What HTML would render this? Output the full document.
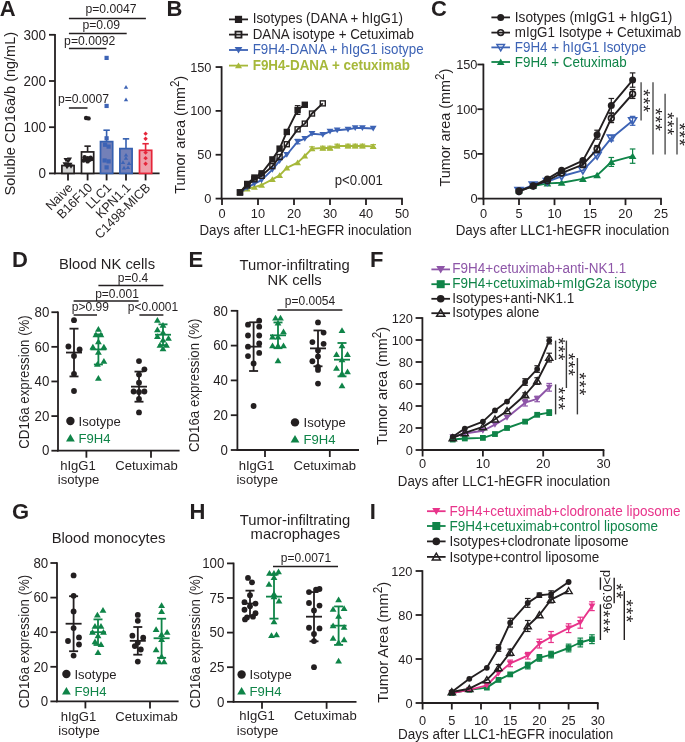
<!DOCTYPE html>
<html><head><meta charset="utf-8"><style>
html,body{margin:0;padding:0;background:#fff;width:685px;height:742px;overflow:hidden}
svg{display:block;filter:blur(0.35px)}
text{font-family:"Liberation Sans",sans-serif}
</style></head><body>
<svg width="685" height="742" viewBox="0 0 685 742" fill="#231f20">
<text x="-0.3" y="16.2" font-size="22" font-weight="bold" transform="translate(0 -0.65) scale(1 1.04)">A</text>
<line x1="55" y1="34" x2="55" y2="174.2" stroke="#231f20" stroke-width="1.8"/>
<line x1="49" y1="173.4" x2="55" y2="173.4" stroke="#231f20" stroke-width="1.8"/>
<text x="46" y="178.26" font-size="13.5" text-anchor="end" transform="translate(0 -7.13) scale(1 1.04)">0</text>
<line x1="49" y1="127.2" x2="55" y2="127.2" stroke="#231f20" stroke-width="1.8"/>
<text x="46" y="132.06" font-size="13.5" text-anchor="end" transform="translate(0 -5.28) scale(1 1.04)">100</text>
<line x1="49" y1="81" x2="55" y2="81" stroke="#231f20" stroke-width="1.8"/>
<text x="46" y="85.86" font-size="13.5" text-anchor="end" transform="translate(0 -3.43) scale(1 1.04)">200</text>
<line x1="49" y1="34.8" x2="55" y2="34.8" stroke="#231f20" stroke-width="1.8"/>
<text x="46" y="39.66" font-size="13.5" text-anchor="end" transform="translate(0 -1.59) scale(1 1.04)">300</text>
<line x1="54.2" y1="173.4" x2="159.6" y2="173.4" stroke="#231f20" stroke-width="1.8"/>
<line x1="68" y1="173.4" x2="68" y2="180.4" stroke="#231f20" stroke-width="1.8"/>
<line x1="87.6" y1="173.4" x2="87.6" y2="180.4" stroke="#231f20" stroke-width="1.8"/>
<line x1="106.6" y1="173.4" x2="106.6" y2="180.4" stroke="#231f20" stroke-width="1.8"/>
<line x1="126" y1="173.4" x2="126" y2="180.4" stroke="#231f20" stroke-width="1.8"/>
<line x1="145.6" y1="173.4" x2="145.6" y2="180.4" stroke="#231f20" stroke-width="1.8"/>
<text x="15.1" y="113.7" font-size="14.5" text-anchor="middle" transform="rotate(-90 15.1 113.7) translate(0 -4.55) scale(1 1.04)">Soluble CD16a/b (ng/mL)</text>
<line x1="68" y1="165.55" x2="68" y2="163.7" stroke="#231f20" stroke-width="1.6"/>
<line x1="64.8" y1="163.7" x2="71.2" y2="163.7" stroke="#231f20" stroke-width="1.6"/>
<rect x="61.9" y="165.55" width="12.2" height="7.85" fill="#d6d6d6" stroke="#231f20" stroke-width="1.7"/>
<line x1="87.6" y1="151.92" x2="87.6" y2="146.14" stroke="#231f20" stroke-width="1.6"/>
<line x1="84.4" y1="146.14" x2="90.8" y2="146.14" stroke="#231f20" stroke-width="1.6"/>
<rect x="81.5" y="151.92" width="12.2" height="21.48" fill="#ffffff" stroke="#231f20" stroke-width="1.7"/>
<line x1="106.6" y1="141.61" x2="106.6" y2="130.2" stroke="#3560b0" stroke-width="1.6"/>
<line x1="103.4" y1="130.2" x2="109.8" y2="130.2" stroke="#3560b0" stroke-width="1.6"/>
<rect x="100.5" y="141.61" width="12.2" height="31.79" fill="#7380b8" stroke="#3560b0" stroke-width="1.7"/>
<line x1="126" y1="148.59" x2="126" y2="138.84" stroke="#3560b0" stroke-width="1.6"/>
<line x1="122.8" y1="138.84" x2="129.2" y2="138.84" stroke="#3560b0" stroke-width="1.6"/>
<rect x="119.9" y="148.59" width="12.2" height="24.81" fill="#7380b8" stroke="#3560b0" stroke-width="1.7"/>
<line x1="145.6" y1="150.3" x2="145.6" y2="143.74" stroke="#e5263a" stroke-width="1.6"/>
<line x1="142.4" y1="143.74" x2="148.8" y2="143.74" stroke="#e5263a" stroke-width="1.6"/>
<rect x="139.5" y="150.3" width="12.2" height="23.1" fill="#eea0aa" stroke="#e5263a" stroke-width="1.7"/>
<polygon points="66,162.3 68.53,158.05 63.47,158.05" fill="#231f20"/>
<polygon points="69.5,161.84 72.03,157.58 66.97,157.58" fill="#231f20"/>
<polygon points="68,163.69 70.53,159.43 65.47,159.43" fill="#231f20"/>
<polygon points="65,166.46 67.53,162.2 62.47,162.2" fill="#231f20"/>
<polygon points="70,166.92 72.53,162.67 67.47,162.67" fill="#231f20"/>
<polygon points="68,167.85 70.53,163.59 65.47,163.59" fill="#231f20"/>
<polygon points="67,169.23 69.53,164.98 64.47,164.98" fill="#231f20"/>
<polygon points="71,168.77 73.53,164.51 68.47,164.51" fill="#231f20"/>
<circle cx="86.1" cy="117.96" r="2.2" fill="#231f20"/>
<circle cx="88.6" cy="118.42" r="2.2" fill="#231f20"/>
<circle cx="84.6" cy="157.23" r="2.2" fill="#231f20"/>
<circle cx="87.6" cy="158.15" r="2.2" fill="#231f20"/>
<circle cx="90.6" cy="157.69" r="2.2" fill="#231f20"/>
<circle cx="85.6" cy="159.54" r="2.2" fill="#231f20"/>
<circle cx="89.1" cy="160" r="2.2" fill="#231f20"/>
<circle cx="91.6" cy="159.08" r="2.2" fill="#231f20"/>
<circle cx="83.6" cy="160.46" r="2.2" fill="#231f20"/>
<circle cx="87.6" cy="161.39" r="2.2" fill="#231f20"/>
<rect x="104.5" y="55.8" width="4.2" height="4.2" fill="#3d63b5"/>
<rect x="104.5" y="103.85" width="4.2" height="4.2" fill="#3d63b5"/>
<rect x="104.5" y="136.19" width="4.2" height="4.2" fill="#3d63b5"/>
<rect x="103" y="142.66" width="4.2" height="4.2" fill="#3d63b5"/>
<rect x="106.5" y="144.5" width="4.2" height="4.2" fill="#3d63b5"/>
<rect x="102.5" y="158.36" width="4.2" height="4.2" fill="#3d63b5"/>
<rect x="106.5" y="159.29" width="4.2" height="4.2" fill="#3d63b5"/>
<rect x="104.5" y="165.29" width="4.2" height="4.2" fill="#3d63b5"/>
<polygon points="126,85.01 128.2,88.71 123.8,88.71" fill="#3d63b5"/>
<polygon points="126,97.48 128.2,101.18 123.8,101.18" fill="#3d63b5"/>
<polygon points="126,152.92 128.2,156.62 123.8,156.62" fill="#3d63b5"/>
<polygon points="126,156.15 128.2,159.85 123.8,159.85" fill="#3d63b5"/>
<polygon points="123,160.31 125.2,164.01 120.8,164.01" fill="#3d63b5"/>
<polygon points="129,161.24 131.2,164.94 126.8,164.94" fill="#3d63b5"/>
<polygon points="124,165.86 126.2,169.56 121.8,169.56" fill="#3d63b5"/>
<polygon points="128,165.39 130.2,169.09 125.8,169.09" fill="#3d63b5"/>
<polygon points="145.6,131.47 147.8,133.67 145.6,135.87 143.4,133.67" fill="#e5263a"/>
<polygon points="145.6,136.55 147.8,138.75 145.6,140.95 143.4,138.75" fill="#e5263a"/>
<polygon points="145.6,150.41 147.8,152.61 145.6,154.81 143.4,152.61" fill="#e5263a"/>
<polygon points="145.6,155.95 147.8,158.15 145.6,160.35 143.4,158.15" fill="#e5263a"/>
<polygon points="145.6,161.5 147.8,163.7 145.6,165.9 143.4,163.7" fill="#e5263a"/>
<line x1="68.9" y1="108" x2="87.5" y2="108" stroke="#231f20" stroke-width="1.5"/>
<text x="83.5" y="103" font-size="12.2" text-anchor="middle" transform="translate(0 -4.12) scale(1 1.04)">p=0.0007</text>
<line x1="68.9" y1="48.6" x2="106.4" y2="48.6" stroke="#231f20" stroke-width="1.5"/>
<text x="89.7" y="45.2" font-size="12.2" text-anchor="middle" transform="translate(0 -1.81) scale(1 1.04)">p=0.0092</text>
<line x1="68.9" y1="33.4" x2="126.7" y2="33.4" stroke="#231f20" stroke-width="1.5"/>
<text x="101.2" y="29.4" font-size="12.2" text-anchor="middle" transform="translate(0 -1.18) scale(1 1.04)">p=0.09</text>
<line x1="68.9" y1="18.4" x2="145.9" y2="18.4" stroke="#231f20" stroke-width="1.5"/>
<text x="111" y="13.1" font-size="12.2" text-anchor="middle" transform="translate(0 -0.52) scale(1 1.04)">p=0.0047</text>
<text x="73.5" y="188.5" font-size="12.5" text-anchor="end" transform="rotate(-45 73.5 188.5) translate(0 -7.54) scale(1 1.04)">Naive</text>
<text x="93.1" y="188.5" font-size="12.5" text-anchor="end" transform="rotate(-45 93.1 188.5) translate(0 -7.54) scale(1 1.04)">B16F10</text>
<text x="112.1" y="188.5" font-size="12.5" text-anchor="end" transform="rotate(-45 112.1 188.5) translate(0 -7.54) scale(1 1.04)">LLC1</text>
<text x="131.5" y="188.5" font-size="12.5" text-anchor="end" transform="rotate(-45 131.5 188.5) translate(0 -7.54) scale(1 1.04)">KPN1.1</text>
<text x="151.1" y="188.5" font-size="12.5" text-anchor="end" transform="rotate(-45 151.1 188.5) translate(0 -7.54) scale(1 1.04)">C1498-MICB</text>
<text x="166.4" y="16.2" font-size="22" font-weight="bold" transform="translate(0 -0.65) scale(1 1.04)">B</text>
<line x1="221.6" y1="66.25" x2="221.6" y2="199.4" stroke="#231f20" stroke-width="1.8"/>
<line x1="215.6" y1="198.6" x2="221.6" y2="198.6" stroke="#231f20" stroke-width="1.8"/>
<text x="211.5" y="203.21" font-size="12.8" text-anchor="end" transform="translate(0 -8.13) scale(1 1.04)">0</text>
<line x1="215.6" y1="154.75" x2="221.6" y2="154.75" stroke="#231f20" stroke-width="1.8"/>
<text x="211.5" y="159.36" font-size="12.8" text-anchor="end" transform="translate(0 -6.37) scale(1 1.04)">50</text>
<line x1="215.6" y1="110.9" x2="221.6" y2="110.9" stroke="#231f20" stroke-width="1.8"/>
<text x="211.5" y="115.51" font-size="12.8" text-anchor="end" transform="translate(0 -4.62) scale(1 1.04)">100</text>
<line x1="215.6" y1="67.05" x2="221.6" y2="67.05" stroke="#231f20" stroke-width="1.8"/>
<text x="211.5" y="71.66" font-size="12.8" text-anchor="end" transform="translate(0 -2.87) scale(1 1.04)">150</text>
<line x1="220.8" y1="198.6" x2="402.8" y2="198.6" stroke="#231f20" stroke-width="1.8"/>
<line x1="222" y1="198.6" x2="222" y2="205.1" stroke="#231f20" stroke-width="1.8"/>
<text x="222" y="217.6" font-size="12.8" text-anchor="middle" transform="translate(0 -8.7) scale(1 1.04)">0</text>
<line x1="258" y1="198.6" x2="258" y2="205.1" stroke="#231f20" stroke-width="1.8"/>
<text x="258" y="217.6" font-size="12.8" text-anchor="middle" transform="translate(0 -8.7) scale(1 1.04)">10</text>
<line x1="294" y1="198.6" x2="294" y2="205.1" stroke="#231f20" stroke-width="1.8"/>
<text x="294" y="217.6" font-size="12.8" text-anchor="middle" transform="translate(0 -8.7) scale(1 1.04)">20</text>
<line x1="330" y1="198.6" x2="330" y2="205.1" stroke="#231f20" stroke-width="1.8"/>
<text x="330" y="217.6" font-size="12.8" text-anchor="middle" transform="translate(0 -8.7) scale(1 1.04)">30</text>
<line x1="366" y1="198.6" x2="366" y2="205.1" stroke="#231f20" stroke-width="1.8"/>
<text x="366" y="217.6" font-size="12.8" text-anchor="middle" transform="translate(0 -8.7) scale(1 1.04)">40</text>
<line x1="402" y1="198.6" x2="402" y2="205.1" stroke="#231f20" stroke-width="1.8"/>
<text x="402" y="217.6" font-size="12.8" text-anchor="middle" transform="translate(0 -8.7) scale(1 1.04)">50</text>
<text x="305.6" y="235.2" font-size="13.32" text-anchor="middle" transform="translate(0 -9.41) scale(1 1.04)">Days after LLC1-hEGFR inoculation</text>
<text x="185.4" y="134.8" font-size="14.4" text-anchor="middle" transform="rotate(-90 185.4 134.8) translate(0 -5.39) scale(1 1.04)">Tumor area (mm<tspan dy="-6.05" font-size="11.52">2</tspan><tspan dy="6.05">)</tspan></text>
<polyline points="240,192.46 247.2,188.95 254.4,187.2 261.6,185.01 272.4,179.31 279.6,175.36 286.8,167.91 297.6,162.64 304.8,155.98 312,148.61 322.8,148 330,148 337.2,145.98 348,145.98 355.2,145.98 362.4,145.98 373.2,146.42" fill="none" stroke="#a6b83a" stroke-width="1.9" stroke-linejoin="round"/>
<line x1="312" y1="146.86" x2="312" y2="150.37" stroke="#a6b83a" stroke-width="1.2"/>
<line x1="309.2" y1="146.86" x2="314.8" y2="146.86" stroke="#a6b83a" stroke-width="1.2"/>
<line x1="309.2" y1="150.37" x2="314.8" y2="150.37" stroke="#a6b83a" stroke-width="1.2"/>
<line x1="322.8" y1="146.24" x2="322.8" y2="149.75" stroke="#a6b83a" stroke-width="1.2"/>
<line x1="320" y1="146.24" x2="325.6" y2="146.24" stroke="#a6b83a" stroke-width="1.2"/>
<line x1="320" y1="149.75" x2="325.6" y2="149.75" stroke="#a6b83a" stroke-width="1.2"/>
<line x1="330" y1="146.24" x2="330" y2="149.75" stroke="#a6b83a" stroke-width="1.2"/>
<line x1="327.2" y1="146.24" x2="332.8" y2="146.24" stroke="#a6b83a" stroke-width="1.2"/>
<line x1="327.2" y1="149.75" x2="332.8" y2="149.75" stroke="#a6b83a" stroke-width="1.2"/>
<line x1="337.2" y1="144.23" x2="337.2" y2="147.73" stroke="#a6b83a" stroke-width="1.2"/>
<line x1="334.4" y1="144.23" x2="340" y2="144.23" stroke="#a6b83a" stroke-width="1.2"/>
<line x1="334.4" y1="147.73" x2="340" y2="147.73" stroke="#a6b83a" stroke-width="1.2"/>
<line x1="348" y1="144.23" x2="348" y2="147.73" stroke="#a6b83a" stroke-width="1.2"/>
<line x1="345.2" y1="144.23" x2="350.8" y2="144.23" stroke="#a6b83a" stroke-width="1.2"/>
<line x1="345.2" y1="147.73" x2="350.8" y2="147.73" stroke="#a6b83a" stroke-width="1.2"/>
<line x1="355.2" y1="144.23" x2="355.2" y2="147.73" stroke="#a6b83a" stroke-width="1.2"/>
<line x1="352.4" y1="144.23" x2="358" y2="144.23" stroke="#a6b83a" stroke-width="1.2"/>
<line x1="352.4" y1="147.73" x2="358" y2="147.73" stroke="#a6b83a" stroke-width="1.2"/>
<line x1="362.4" y1="144.23" x2="362.4" y2="147.73" stroke="#a6b83a" stroke-width="1.2"/>
<line x1="359.6" y1="144.23" x2="365.2" y2="144.23" stroke="#a6b83a" stroke-width="1.2"/>
<line x1="359.6" y1="147.73" x2="365.2" y2="147.73" stroke="#a6b83a" stroke-width="1.2"/>
<line x1="373.2" y1="144.66" x2="373.2" y2="148.17" stroke="#a6b83a" stroke-width="1.2"/>
<line x1="370.4" y1="144.66" x2="376" y2="144.66" stroke="#a6b83a" stroke-width="1.2"/>
<line x1="370.4" y1="148.17" x2="376" y2="148.17" stroke="#a6b83a" stroke-width="1.2"/>
<polygon points="240,189.36 243.41,195.1 236.59,195.1" fill="#a6b83a"/>
<polygon points="247.2,185.85 250.61,191.59 243.79,191.59" fill="#a6b83a"/>
<polygon points="254.4,184.1 257.81,189.83 250.99,189.83" fill="#a6b83a"/>
<polygon points="261.6,181.91 265.01,187.64 258.19,187.64" fill="#a6b83a"/>
<polygon points="272.4,176.21 275.81,181.94 268.99,181.94" fill="#a6b83a"/>
<polygon points="279.6,172.26 283.01,177.99 276.19,177.99" fill="#a6b83a"/>
<polygon points="286.8,164.81 290.21,170.54 283.39,170.54" fill="#a6b83a"/>
<polygon points="297.6,159.54 301.01,165.28 294.19,165.28" fill="#a6b83a"/>
<polygon points="304.8,152.88 308.21,158.61 301.39,158.61" fill="#a6b83a"/>
<polygon points="312,145.51 315.41,151.25 308.59,151.25" fill="#a6b83a"/>
<polygon points="322.8,144.9 326.21,150.63 319.39,150.63" fill="#a6b83a"/>
<polygon points="330,144.9 333.41,150.63 326.59,150.63" fill="#a6b83a"/>
<polygon points="337.2,142.88 340.61,148.61 333.79,148.61" fill="#a6b83a"/>
<polygon points="348,142.88 351.41,148.61 344.59,148.61" fill="#a6b83a"/>
<polygon points="355.2,142.88 358.61,148.61 351.79,148.61" fill="#a6b83a"/>
<polygon points="362.4,142.88 365.81,148.61 358.99,148.61" fill="#a6b83a"/>
<polygon points="373.2,143.32 376.61,149.05 369.79,149.05" fill="#a6b83a"/>
<polyline points="240,192.46 247.2,187.64 254.4,183.69 261.6,180.18 272.4,169.66 279.6,160.89 286.8,154.75 297.6,141.59 304.8,138.61 312,133.7 322.8,134.58 330,131.42 337.2,130.19 348,129.32 355.2,128 362.4,128 373.2,128.44" fill="none" stroke="#3d63b5" stroke-width="1.9" stroke-linejoin="round"/>
<line x1="297.6" y1="139.4" x2="297.6" y2="143.79" stroke="#3d63b5" stroke-width="1.2"/>
<line x1="294.8" y1="139.4" x2="300.4" y2="139.4" stroke="#3d63b5" stroke-width="1.2"/>
<line x1="294.8" y1="143.79" x2="300.4" y2="143.79" stroke="#3d63b5" stroke-width="1.2"/>
<polygon points="240,195.56 243.41,189.83 236.59,189.83" fill="#3d63b5"/>
<polygon points="247.2,190.74 250.61,185 243.79,185" fill="#3d63b5"/>
<polygon points="254.4,186.79 257.81,181.06 250.99,181.06" fill="#3d63b5"/>
<polygon points="261.6,183.28 265.01,177.55 258.19,177.55" fill="#3d63b5"/>
<polygon points="272.4,172.76 275.81,167.02 268.99,167.02" fill="#3d63b5"/>
<polygon points="279.6,163.99 283.01,158.25 276.19,158.25" fill="#3d63b5"/>
<polygon points="286.8,157.85 290.21,152.12 283.39,152.12" fill="#3d63b5"/>
<polygon points="297.6,144.69 301.01,138.96 294.19,138.96" fill="#3d63b5"/>
<polygon points="304.8,141.71 308.21,135.98 301.39,135.98" fill="#3d63b5"/>
<polygon points="312,136.8 315.41,131.07 308.59,131.07" fill="#3d63b5"/>
<polygon points="322.8,137.68 326.21,131.94 319.39,131.94" fill="#3d63b5"/>
<polygon points="330,134.52 333.41,128.79 326.59,128.79" fill="#3d63b5"/>
<polygon points="337.2,133.29 340.61,127.56 333.79,127.56" fill="#3d63b5"/>
<polygon points="348,132.42 351.41,126.68 344.59,126.68" fill="#3d63b5"/>
<polygon points="355.2,131.1 358.61,125.37 351.79,125.37" fill="#3d63b5"/>
<polygon points="362.4,131.1 365.81,125.37 358.99,125.37" fill="#3d63b5"/>
<polygon points="373.2,131.54 376.61,125.8 369.79,125.8" fill="#3d63b5"/>
<polyline points="240,192.46 247.2,185.44 254.4,179.31 261.6,175.8 272.4,166.15 279.6,157.03 286.8,144.23 297.6,129.32 304.8,123.62 312,113.53 322.8,103.36" fill="none" stroke="#231f20" stroke-width="1.9" stroke-linejoin="round"/>
<rect x="237.5" y="189.96" width="5" height="5" fill="none" stroke="#231f20" stroke-width="1.4"/>
<rect x="244.7" y="182.94" width="5" height="5" fill="none" stroke="#231f20" stroke-width="1.4"/>
<rect x="251.9" y="176.81" width="5" height="5" fill="none" stroke="#231f20" stroke-width="1.4"/>
<rect x="259.1" y="173.3" width="5" height="5" fill="none" stroke="#231f20" stroke-width="1.4"/>
<rect x="269.9" y="163.65" width="5" height="5" fill="none" stroke="#231f20" stroke-width="1.4"/>
<rect x="277.1" y="154.53" width="5" height="5" fill="none" stroke="#231f20" stroke-width="1.4"/>
<rect x="284.3" y="141.73" width="5" height="5" fill="none" stroke="#231f20" stroke-width="1.4"/>
<rect x="295.1" y="126.82" width="5" height="5" fill="none" stroke="#231f20" stroke-width="1.4"/>
<rect x="302.3" y="121.12" width="5" height="5" fill="none" stroke="#231f20" stroke-width="1.4"/>
<rect x="309.5" y="111.03" width="5" height="5" fill="none" stroke="#231f20" stroke-width="1.4"/>
<rect x="320.3" y="100.86" width="5" height="5" fill="none" stroke="#231f20" stroke-width="1.4"/>
<polyline points="240,192.46 247.2,183.95 254.4,177.55 261.6,173.34 272.4,159.4 279.6,148.61 286.8,131.95 297.6,110.02 304.8,104.76" fill="none" stroke="#231f20" stroke-width="1.9" stroke-linejoin="round"/>
<line x1="297.6" y1="105.64" x2="297.6" y2="114.41" stroke="#231f20" stroke-width="1.2"/>
<line x1="294.8" y1="105.64" x2="300.4" y2="105.64" stroke="#231f20" stroke-width="1.2"/>
<line x1="294.8" y1="114.41" x2="300.4" y2="114.41" stroke="#231f20" stroke-width="1.2"/>
<rect x="236.8" y="189.26" width="6.4" height="6.4" fill="#231f20"/>
<rect x="244" y="180.75" width="6.4" height="6.4" fill="#231f20"/>
<rect x="251.2" y="174.35" width="6.4" height="6.4" fill="#231f20"/>
<rect x="258.4" y="170.14" width="6.4" height="6.4" fill="#231f20"/>
<rect x="269.2" y="156.2" width="6.4" height="6.4" fill="#231f20"/>
<rect x="276.4" y="145.41" width="6.4" height="6.4" fill="#231f20"/>
<rect x="283.6" y="128.75" width="6.4" height="6.4" fill="#231f20"/>
<rect x="294.4" y="106.82" width="6.4" height="6.4" fill="#231f20"/>
<rect x="301.6" y="101.56" width="6.4" height="6.4" fill="#231f20"/>
<line x1="229" y1="19.4" x2="248" y2="19.4" stroke="#231f20" stroke-width="1.8"/>
<rect x="234.9" y="15.8" width="7.2" height="7.2" fill="#231f20"/>
<text x="252.7" y="23.4" font-size="13.35" transform="translate(0 -0.94) scale(1 1.04)">Isotypes (DANA + hIgG1)</text>
<line x1="229" y1="34.6" x2="248" y2="34.6" stroke="#231f20" stroke-width="1.8"/>
<rect x="235.5" y="31.6" width="6" height="6" fill="none" stroke="#231f20" stroke-width="1.8"/>
<text x="252.7" y="38.61" font-size="13.35" transform="translate(0 -1.54) scale(1 1.04)">DANA isotype + Cetuximab</text>
<line x1="229" y1="50" x2="248" y2="50" stroke="#3d63b5" stroke-width="1.8"/>
<polygon points="238.5,53.5 242.35,47.02 234.65,47.02" fill="#3d63b5"/>
<text x="252.7" y="54.01" font-size="13.35" fill="#3d63b5" transform="translate(0 -2.16) scale(1 1.04)">F9H4-DANA + hIgG1 isotype</text>
<line x1="229" y1="65.6" x2="248" y2="65.6" stroke="#a6b83a" stroke-width="1.8"/>
<polygon points="238.5,62.4 242.02,68.32 234.98,68.32" fill="#a6b83a"/>
<text x="252.7" y="69.63" font-size="13.42" fill="#a6b83a" font-weight="bold" transform="translate(0 -2.79) scale(1 1.04)">F9H4-DANA + cetuximab</text>
<text x="334.8" y="185.3" font-size="13.2" transform="translate(0 -7.41) scale(1 1.04)">p&lt;0.001</text>
<text x="431.1" y="16.2" font-size="22" font-weight="bold" transform="translate(0 -0.65) scale(1 1.04)">C</text>
<line x1="483.4" y1="63.7" x2="483.4" y2="199.4" stroke="#231f20" stroke-width="1.8"/>
<line x1="477.4" y1="198.6" x2="483.4" y2="198.6" stroke="#231f20" stroke-width="1.8"/>
<text x="477.5" y="203.21" font-size="12.8" text-anchor="end" transform="translate(0 -8.13) scale(1 1.04)">0</text>
<line x1="477.4" y1="153.9" x2="483.4" y2="153.9" stroke="#231f20" stroke-width="1.8"/>
<text x="477.5" y="158.51" font-size="12.8" text-anchor="end" transform="translate(0 -6.34) scale(1 1.04)">50</text>
<line x1="477.4" y1="109.2" x2="483.4" y2="109.2" stroke="#231f20" stroke-width="1.8"/>
<text x="477.5" y="113.81" font-size="12.8" text-anchor="end" transform="translate(0 -4.55) scale(1 1.04)">100</text>
<line x1="477.4" y1="64.5" x2="483.4" y2="64.5" stroke="#231f20" stroke-width="1.8"/>
<text x="477.5" y="69.11" font-size="12.8" text-anchor="end" transform="translate(0 -2.76) scale(1 1.04)">150</text>
<line x1="482.6" y1="198.6" x2="661.8" y2="198.6" stroke="#231f20" stroke-width="1.8"/>
<line x1="483.5" y1="198.6" x2="483.5" y2="205.1" stroke="#231f20" stroke-width="1.8"/>
<text x="483.5" y="218.2" font-size="12.8" text-anchor="middle" transform="translate(0 -8.73) scale(1 1.04)">0</text>
<line x1="519" y1="198.6" x2="519" y2="205.1" stroke="#231f20" stroke-width="1.8"/>
<text x="519" y="218.2" font-size="12.8" text-anchor="middle" transform="translate(0 -8.73) scale(1 1.04)">5</text>
<line x1="554.5" y1="198.6" x2="554.5" y2="205.1" stroke="#231f20" stroke-width="1.8"/>
<text x="554.5" y="218.2" font-size="12.8" text-anchor="middle" transform="translate(0 -8.73) scale(1 1.04)">10</text>
<line x1="590" y1="198.6" x2="590" y2="205.1" stroke="#231f20" stroke-width="1.8"/>
<text x="590" y="218.2" font-size="12.8" text-anchor="middle" transform="translate(0 -8.73) scale(1 1.04)">15</text>
<line x1="625.5" y1="198.6" x2="625.5" y2="205.1" stroke="#231f20" stroke-width="1.8"/>
<text x="625.5" y="218.2" font-size="12.8" text-anchor="middle" transform="translate(0 -8.73) scale(1 1.04)">20</text>
<line x1="661" y1="198.6" x2="661" y2="205.1" stroke="#231f20" stroke-width="1.8"/>
<text x="661" y="218.2" font-size="12.8" text-anchor="middle" transform="translate(0 -8.73) scale(1 1.04)">25</text>
<text x="562.4" y="235.4" font-size="13.4" text-anchor="middle" transform="translate(0 -9.42) scale(1 1.04)">Days after LLC1-hEGFR inoculation</text>
<text x="450.3" y="127.6" font-size="14.4" text-anchor="middle" transform="rotate(-90 450.3 127.6) translate(0 -5.1) scale(1 1.04)">Tumor area (mm<tspan dy="-6.05" font-size="11.52">2</tspan><tspan dy="6.05">)</tspan></text>
<polyline points="519,190.55 533.2,186.08 547.4,183.4 561.6,182.69 582.9,178.93 597.1,175.36 611.3,161.95 632.6,156.13" fill="none" stroke="#0f8448" stroke-width="1.9" stroke-linejoin="round"/>
<line x1="611.3" y1="157.48" x2="611.3" y2="166.42" stroke="#0f8448" stroke-width="1.2"/>
<line x1="608.5" y1="157.48" x2="614.1" y2="157.48" stroke="#0f8448" stroke-width="1.2"/>
<line x1="608.5" y1="166.42" x2="614.1" y2="166.42" stroke="#0f8448" stroke-width="1.2"/>
<line x1="632.6" y1="148.98" x2="632.6" y2="163.29" stroke="#0f8448" stroke-width="1.2"/>
<line x1="629.8" y1="148.98" x2="635.4" y2="148.98" stroke="#0f8448" stroke-width="1.2"/>
<line x1="629.8" y1="163.29" x2="635.4" y2="163.29" stroke="#0f8448" stroke-width="1.2"/>
<polygon points="519,187.05 522.85,193.53 515.15,193.53" fill="#0f8448"/>
<polygon points="533.2,182.58 537.05,189.06 529.35,189.06" fill="#0f8448"/>
<polygon points="547.4,179.9 551.25,186.38 543.55,186.38" fill="#0f8448"/>
<polygon points="561.6,179.19 565.45,185.66 557.75,185.66" fill="#0f8448"/>
<polygon points="582.9,175.43 586.75,181.91 579.05,181.91" fill="#0f8448"/>
<polygon points="597.1,171.86 600.95,178.33 593.25,178.33" fill="#0f8448"/>
<polygon points="611.3,158.45 615.15,164.92 607.45,164.92" fill="#0f8448"/>
<polygon points="632.6,152.63 636.45,159.11 628.75,159.11" fill="#0f8448"/>
<polyline points="519,190.55 533.2,185.19 547.4,181.61 561.6,176.25 582.9,170.35 597.1,155.69 611.3,138.17 632.6,120.82" fill="none" stroke="#3d63b5" stroke-width="1.9" stroke-linejoin="round"/>
<line x1="611.3" y1="135.48" x2="611.3" y2="140.85" stroke="#3d63b5" stroke-width="1.2"/>
<line x1="608.5" y1="135.48" x2="614.1" y2="135.48" stroke="#3d63b5" stroke-width="1.2"/>
<line x1="608.5" y1="140.85" x2="614.1" y2="140.85" stroke="#3d63b5" stroke-width="1.2"/>
<line x1="632.6" y1="116.35" x2="632.6" y2="125.29" stroke="#3d63b5" stroke-width="1.2"/>
<line x1="629.8" y1="116.35" x2="635.4" y2="116.35" stroke="#3d63b5" stroke-width="1.2"/>
<line x1="629.8" y1="125.29" x2="635.4" y2="125.29" stroke="#3d63b5" stroke-width="1.2"/>
<polygon points="519,194.15 522.96,187.49 515.04,187.49" fill="none" stroke="#3d63b5" stroke-width="1.6" stroke-linejoin="miter"/>
<polygon points="533.2,188.79 537.16,182.13 529.24,182.13" fill="none" stroke="#3d63b5" stroke-width="1.6" stroke-linejoin="miter"/>
<polygon points="547.4,185.21 551.36,178.55 543.44,178.55" fill="none" stroke="#3d63b5" stroke-width="1.6" stroke-linejoin="miter"/>
<polygon points="561.6,179.85 565.56,173.19 557.64,173.19" fill="none" stroke="#3d63b5" stroke-width="1.6" stroke-linejoin="miter"/>
<polygon points="582.9,173.95 586.86,167.29 578.94,167.29" fill="none" stroke="#3d63b5" stroke-width="1.6" stroke-linejoin="miter"/>
<polygon points="597.1,159.29 601.06,152.63 593.14,152.63" fill="none" stroke="#3d63b5" stroke-width="1.6" stroke-linejoin="miter"/>
<polygon points="611.3,141.77 615.26,135.11 607.34,135.11" fill="none" stroke="#3d63b5" stroke-width="1.6" stroke-linejoin="miter"/>
<polygon points="632.6,124.42 636.56,117.76 628.64,117.76" fill="none" stroke="#3d63b5" stroke-width="1.6" stroke-linejoin="miter"/>
<polyline points="519,191.45 533.2,186.08 547.4,180.72 561.6,173.12 582.9,164.63 597.1,149.07 611.3,118.14 632.6,94" fill="none" stroke="#231f20" stroke-width="1.9" stroke-linejoin="round"/>
<line x1="582.9" y1="161.95" x2="582.9" y2="167.31" stroke="#231f20" stroke-width="1.2"/>
<line x1="580.1" y1="161.95" x2="585.7" y2="161.95" stroke="#231f20" stroke-width="1.2"/>
<line x1="580.1" y1="167.31" x2="585.7" y2="167.31" stroke="#231f20" stroke-width="1.2"/>
<line x1="597.1" y1="145.5" x2="597.1" y2="152.65" stroke="#231f20" stroke-width="1.2"/>
<line x1="594.3" y1="145.5" x2="599.9" y2="145.5" stroke="#231f20" stroke-width="1.2"/>
<line x1="594.3" y1="152.65" x2="599.9" y2="152.65" stroke="#231f20" stroke-width="1.2"/>
<line x1="611.3" y1="113.67" x2="611.3" y2="122.61" stroke="#231f20" stroke-width="1.2"/>
<line x1="608.5" y1="113.67" x2="614.1" y2="113.67" stroke="#231f20" stroke-width="1.2"/>
<line x1="608.5" y1="122.61" x2="614.1" y2="122.61" stroke="#231f20" stroke-width="1.2"/>
<line x1="632.6" y1="89.53" x2="632.6" y2="98.47" stroke="#231f20" stroke-width="1.2"/>
<line x1="629.8" y1="89.53" x2="635.4" y2="89.53" stroke="#231f20" stroke-width="1.2"/>
<line x1="629.8" y1="98.47" x2="635.4" y2="98.47" stroke="#231f20" stroke-width="1.2"/>
<circle cx="519" cy="191.45" r="2.85" fill="none" stroke="#231f20" stroke-width="1.7"/>
<circle cx="533.2" cy="186.08" r="2.85" fill="none" stroke="#231f20" stroke-width="1.7"/>
<circle cx="547.4" cy="180.72" r="2.85" fill="none" stroke="#231f20" stroke-width="1.7"/>
<circle cx="561.6" cy="173.12" r="2.85" fill="none" stroke="#231f20" stroke-width="1.7"/>
<circle cx="582.9" cy="164.63" r="2.85" fill="none" stroke="#231f20" stroke-width="1.7"/>
<circle cx="597.1" cy="149.07" r="2.85" fill="none" stroke="#231f20" stroke-width="1.7"/>
<circle cx="611.3" cy="118.14" r="2.85" fill="none" stroke="#231f20" stroke-width="1.7"/>
<circle cx="632.6" cy="94" r="2.85" fill="none" stroke="#231f20" stroke-width="1.7"/>
<polyline points="519,190.82 533.2,185.82 547.4,178.93 561.6,170.35 582.9,160.6 597.1,134.68 611.3,105.62 632.6,80.06" fill="none" stroke="#231f20" stroke-width="1.9" stroke-linejoin="round"/>
<line x1="597.1" y1="130.21" x2="597.1" y2="139.15" stroke="#231f20" stroke-width="1.2"/>
<line x1="594.3" y1="130.21" x2="599.9" y2="130.21" stroke="#231f20" stroke-width="1.2"/>
<line x1="594.3" y1="139.15" x2="599.9" y2="139.15" stroke="#231f20" stroke-width="1.2"/>
<line x1="611.3" y1="98.47" x2="611.3" y2="112.78" stroke="#231f20" stroke-width="1.2"/>
<line x1="608.5" y1="98.47" x2="614.1" y2="98.47" stroke="#231f20" stroke-width="1.2"/>
<line x1="608.5" y1="112.78" x2="614.1" y2="112.78" stroke="#231f20" stroke-width="1.2"/>
<line x1="632.6" y1="72.9" x2="632.6" y2="87.21" stroke="#231f20" stroke-width="1.2"/>
<line x1="629.8" y1="72.9" x2="635.4" y2="72.9" stroke="#231f20" stroke-width="1.2"/>
<line x1="629.8" y1="87.21" x2="635.4" y2="87.21" stroke="#231f20" stroke-width="1.2"/>
<circle cx="519" cy="190.82" r="3.5" fill="#231f20"/>
<circle cx="533.2" cy="185.82" r="3.5" fill="#231f20"/>
<circle cx="547.4" cy="178.93" r="3.5" fill="#231f20"/>
<circle cx="561.6" cy="170.35" r="3.5" fill="#231f20"/>
<circle cx="582.9" cy="160.6" r="3.5" fill="#231f20"/>
<circle cx="597.1" cy="134.68" r="3.5" fill="#231f20"/>
<circle cx="611.3" cy="105.62" r="3.5" fill="#231f20"/>
<circle cx="632.6" cy="80.06" r="3.5" fill="#231f20"/>
<line x1="491.4" y1="17.4" x2="510" y2="17.4" stroke="#231f20" stroke-width="1.8"/>
<circle cx="500.7" cy="17.4" r="3.5" fill="#231f20"/>
<text x="514.8" y="22.32" font-size="13.68" transform="translate(0 -0.89) scale(1 1.04)">Isotypes (mIgG1 + hIgG1)</text>
<line x1="491.4" y1="32.6" x2="510" y2="32.6" stroke="#231f20" stroke-width="1.8"/>
<circle cx="500.7" cy="32.6" r="2.85" fill="none" stroke="#231f20" stroke-width="1.7"/>
<text x="514.8" y="37.42" font-size="13.4" transform="translate(0 -1.5) scale(1 1.04)">mIgG1 Isotype + Cetuximab</text>
<line x1="491.4" y1="47.4" x2="510" y2="47.4" stroke="#3d63b5" stroke-width="1.8"/>
<polygon points="500.7,50.8 504.44,44.51 496.96,44.51" fill="none" stroke="#3d63b5" stroke-width="1.5" stroke-linejoin="miter"/>
<text x="514.8" y="52.22" font-size="13.4" fill="#3d63b5" transform="translate(0 -2.09) scale(1 1.04)">F9H4 + hIgG1 Isotype</text>
<line x1="491.4" y1="62" x2="510" y2="62" stroke="#0f8448" stroke-width="1.8"/>
<polygon points="500.7,58.6 504.44,64.89 496.96,64.89" fill="#0f8448"/>
<text x="514.8" y="66.82" font-size="13.4" fill="#0f8448" transform="translate(0 -2.67) scale(1 1.04)">F9H4 + Cetuximab</text>
<line x1="641.1" y1="82.2" x2="641.1" y2="120.5" stroke="#5a5a5a" stroke-width="1.5"/>
<line x1="653" y1="82.2" x2="653" y2="154.4" stroke="#5a5a5a" stroke-width="1.5"/>
<line x1="665.1" y1="93.8" x2="665.1" y2="154.4" stroke="#5a5a5a" stroke-width="1.5"/>
<line x1="677" y1="117.5" x2="677" y2="154.4" stroke="#5a5a5a" stroke-width="1.5"/>
<text x="636.9" y="101.1" font-size="18.2" text-anchor="middle" transform="rotate(90 636.9 101.1) translate(0 -4.04) scale(1 1.04)" letter-spacing="0.8">***</text>
<text x="648.8" y="119.7" font-size="18.2" text-anchor="middle" transform="rotate(90 648.8 119.7) translate(0 -4.79) scale(1 1.04)" letter-spacing="0.8">***</text>
<text x="660.6" y="124.1" font-size="18.2" text-anchor="middle" transform="rotate(90 660.6 124.1) translate(0 -4.96) scale(1 1.04)" letter-spacing="0.8">***</text>
<text x="672.5" y="134.8" font-size="18.2" text-anchor="middle" transform="rotate(90 672.5 134.8) translate(0 -5.39) scale(1 1.04)" letter-spacing="0.8">***</text>
<text x="12.1" y="266.6" font-size="22" font-weight="bold" transform="translate(0 -10.66) scale(1 1.04)">D</text>
<text x="107" y="269.4" font-size="14.8" text-anchor="middle" transform="translate(0 -10.78) scale(1 1.04)">Blood NK cells</text>
<line x1="58" y1="311.42" x2="58" y2="451.5" stroke="#231f20" stroke-width="1.8"/>
<line x1="51.4" y1="450.7" x2="58" y2="450.7" stroke="#231f20" stroke-width="1.8"/>
<text x="49.3" y="455.49" font-size="13.3" text-anchor="end" transform="translate(0 -18.22) scale(1 1.04)">0</text>
<line x1="51.4" y1="416.08" x2="58" y2="416.08" stroke="#231f20" stroke-width="1.8"/>
<text x="49.3" y="420.87" font-size="13.3" text-anchor="end" transform="translate(0 -16.83) scale(1 1.04)">20</text>
<line x1="51.4" y1="381.46" x2="58" y2="381.46" stroke="#231f20" stroke-width="1.8"/>
<text x="49.3" y="386.25" font-size="13.3" text-anchor="end" transform="translate(0 -15.45) scale(1 1.04)">40</text>
<line x1="51.4" y1="346.84" x2="58" y2="346.84" stroke="#231f20" stroke-width="1.8"/>
<text x="49.3" y="351.63" font-size="13.3" text-anchor="end" transform="translate(0 -14.07) scale(1 1.04)">60</text>
<line x1="51.4" y1="312.22" x2="58" y2="312.22" stroke="#231f20" stroke-width="1.8"/>
<text x="49.3" y="317.01" font-size="13.3" text-anchor="end" transform="translate(0 -12.68) scale(1 1.04)">80</text>
<line x1="57.2" y1="450.7" x2="179.6" y2="450.7" stroke="#231f20" stroke-width="1.8"/>
<line x1="86.4" y1="450.7" x2="86.4" y2="457.7" stroke="#231f20" stroke-width="1.8"/>
<line x1="151" y1="450.7" x2="151" y2="457.7" stroke="#231f20" stroke-width="1.8"/>
<text x="78" y="470" font-size="13.1" text-anchor="middle" transform="translate(0 -18.8) scale(1 1.04)">hIgG1</text>
<text x="78.5" y="484.4" font-size="13.1" text-anchor="middle" transform="translate(0 -19.38) scale(1 1.04)">isotype</text>
<text x="146.5" y="470" font-size="13.1" text-anchor="middle" transform="translate(0 -18.8) scale(1 1.04)">Cetuximab</text>
<text x="28.6" y="382" font-size="13.3" text-anchor="middle" transform="rotate(-90 28.6 382) translate(0 -15.28) scale(1 1.04)">CD16a expression (%)</text>
<circle cx="70.4" cy="421" r="4.2" fill="#231f20"/>
<text x="78.6" y="425.6" font-size="13.1" transform="translate(0 -17.02) scale(1 1.04)">Isotype</text>
<polygon points="70.4,434 74.8,441.4 66,441.4" fill="#0f8448"/>
<text x="78.6" y="442.6" font-size="13.1" fill="#0f8448" transform="translate(0 -17.7) scale(1 1.04)">F9H4</text>
<circle cx="74" cy="320.18" r="2.9" fill="#231f20"/>
<circle cx="68.4" cy="346.49" r="2.9" fill="#231f20"/>
<circle cx="79.6" cy="349.44" r="2.9" fill="#231f20"/>
<circle cx="74" cy="356.01" r="2.9" fill="#231f20"/>
<circle cx="74" cy="374.02" r="2.9" fill="#231f20"/>
<circle cx="74" cy="390.98" r="2.9" fill="#231f20"/>
<line x1="74" y1="328.66" x2="74" y2="376.44" stroke="#231f20" stroke-width="1.8"/>
<line x1="69.5" y1="328.66" x2="78.5" y2="328.66" stroke="#231f20" stroke-width="1.8"/>
<line x1="69.5" y1="376.44" x2="78.5" y2="376.44" stroke="#231f20" stroke-width="1.8"/>
<line x1="66" y1="352.55" x2="82" y2="352.55" stroke="#231f20" stroke-width="1.8"/>
<polygon points="98.4,325.91 101.81,331.65 94.99,331.65" fill="#0f8448"/>
<polygon points="95.9,331.62 99.31,337.36 92.49,337.36" fill="#0f8448"/>
<polygon points="100.9,331.62 104.31,337.36 97.49,337.36" fill="#0f8448"/>
<polygon points="98.4,338.55 101.81,344.28 94.99,344.28" fill="#0f8448"/>
<polygon points="92.9,343.74 96.31,349.47 89.49,349.47" fill="#0f8448"/>
<polygon points="103.9,343.74 107.31,349.47 100.49,349.47" fill="#0f8448"/>
<polygon points="98.4,348.93 101.81,354.67 94.99,354.67" fill="#0f8448"/>
<polygon points="103.9,357.93 107.31,363.67 100.49,363.67" fill="#0f8448"/>
<polygon points="97.4,361.05 100.81,366.78 93.99,366.78" fill="#0f8448"/>
<polygon points="98.4,374.9 101.81,380.63 94.99,380.63" fill="#0f8448"/>
<line x1="98.4" y1="334.38" x2="98.4" y2="364.5" stroke="#0f8448" stroke-width="1.8"/>
<line x1="93.9" y1="334.38" x2="102.9" y2="334.38" stroke="#0f8448" stroke-width="1.8"/>
<line x1="93.9" y1="364.5" x2="102.9" y2="364.5" stroke="#0f8448" stroke-width="1.8"/>
<line x1="90.4" y1="349.44" x2="106.4" y2="349.44" stroke="#0f8448" stroke-width="1.8"/>
<circle cx="139" cy="361.03" r="2.9" fill="#231f20"/>
<circle cx="144.4" cy="369.34" r="2.9" fill="#231f20"/>
<circle cx="139" cy="374.54" r="2.9" fill="#231f20"/>
<circle cx="139" cy="382.67" r="2.9" fill="#231f20"/>
<circle cx="133.6" cy="391.5" r="2.9" fill="#231f20"/>
<circle cx="144.4" cy="391.5" r="2.9" fill="#231f20"/>
<circle cx="139" cy="392.02" r="2.9" fill="#231f20"/>
<circle cx="139" cy="398.94" r="2.9" fill="#231f20"/>
<circle cx="139" cy="412.44" r="2.9" fill="#231f20"/>
<line x1="139" y1="371.59" x2="139" y2="401.71" stroke="#231f20" stroke-width="1.8"/>
<line x1="134.5" y1="371.59" x2="143.5" y2="371.59" stroke="#231f20" stroke-width="1.8"/>
<line x1="134.5" y1="401.71" x2="143.5" y2="401.71" stroke="#231f20" stroke-width="1.8"/>
<line x1="131" y1="386.65" x2="147" y2="386.65" stroke="#231f20" stroke-width="1.8"/>
<polygon points="157.4,317.08 160.81,322.82 153.99,322.82" fill="#0f8448"/>
<polygon points="163,322.1 166.41,327.84 159.59,327.84" fill="#0f8448"/>
<polygon points="157.4,326.43 160.81,332.16 153.99,332.16" fill="#0f8448"/>
<polygon points="163,329.2 166.41,334.93 159.59,334.93" fill="#0f8448"/>
<polygon points="157.4,333.35 160.81,339.09 153.99,339.09" fill="#0f8448"/>
<polygon points="168.5,335.08 171.91,340.82 165.09,340.82" fill="#0f8448"/>
<polygon points="163,336.82 166.41,342.55 159.59,342.55" fill="#0f8448"/>
<polygon points="160,342.01 163.41,347.74 156.59,347.74" fill="#0f8448"/>
<polygon points="166.5,342.01 169.91,347.74 163.09,347.74" fill="#0f8448"/>
<polygon points="163,345.47 166.41,351.21 159.59,351.21" fill="#0f8448"/>
<line x1="163" y1="324.34" x2="163" y2="345.11" stroke="#0f8448" stroke-width="1.8"/>
<line x1="158.5" y1="324.34" x2="167.5" y2="324.34" stroke="#0f8448" stroke-width="1.8"/>
<line x1="158.5" y1="345.11" x2="167.5" y2="345.11" stroke="#0f8448" stroke-width="1.8"/>
<line x1="155" y1="334.72" x2="171" y2="334.72" stroke="#0f8448" stroke-width="1.8"/>
<line x1="98.4" y1="285.6" x2="163.4" y2="285.6" stroke="#231f20" stroke-width="1.5"/>
<text x="133" y="281.6" font-size="12" text-anchor="middle" transform="translate(0 -11.26) scale(1 1.04)">p=0.4</text>
<line x1="73.6" y1="301" x2="138.6" y2="301" stroke="#231f20" stroke-width="1.5"/>
<text x="117" y="298" font-size="12" text-anchor="middle" transform="translate(0 -11.92) scale(1 1.04)">p=0.001</text>
<line x1="73.6" y1="315" x2="97" y2="315" stroke="#231f20" stroke-width="1.5"/>
<text x="90.3" y="311" font-size="12" text-anchor="middle" transform="translate(0 -12.44) scale(1 1.04)">p&gt;0.99</text>
<line x1="139.4" y1="315" x2="163.4" y2="315" stroke="#231f20" stroke-width="1.5"/>
<text x="153" y="311" font-size="12" text-anchor="middle" transform="translate(0 -12.44) scale(1 1.04)">p&lt;0.0001</text>
<text x="188.5" y="266.8" font-size="22" font-weight="bold" transform="translate(0 -10.67) scale(1 1.04)">E</text>
<text x="294.6" y="269.8" font-size="14.8" text-anchor="middle" transform="translate(0 -10.79) scale(1 1.04)">Tumor-infiltrating</text>
<text x="294.6" y="284.6" font-size="14.8" text-anchor="middle" transform="translate(0 -11.38) scale(1 1.04)">NK cells</text>
<line x1="237.4" y1="310" x2="237.4" y2="450.8" stroke="#231f20" stroke-width="1.8"/>
<line x1="230.8" y1="450" x2="237.4" y2="450" stroke="#231f20" stroke-width="1.8"/>
<text x="228" y="454.79" font-size="13.3" text-anchor="end" transform="translate(0 -18.19) scale(1 1.04)">0</text>
<line x1="230.8" y1="415.2" x2="237.4" y2="415.2" stroke="#231f20" stroke-width="1.8"/>
<text x="228" y="419.99" font-size="13.3" text-anchor="end" transform="translate(0 -16.8) scale(1 1.04)">20</text>
<line x1="230.8" y1="380.4" x2="237.4" y2="380.4" stroke="#231f20" stroke-width="1.8"/>
<text x="228" y="385.19" font-size="13.3" text-anchor="end" transform="translate(0 -15.41) scale(1 1.04)">40</text>
<line x1="230.8" y1="345.6" x2="237.4" y2="345.6" stroke="#231f20" stroke-width="1.8"/>
<text x="228" y="350.39" font-size="13.3" text-anchor="end" transform="translate(0 -14.02) scale(1 1.04)">60</text>
<line x1="230.8" y1="310.8" x2="237.4" y2="310.8" stroke="#231f20" stroke-width="1.8"/>
<text x="228" y="315.59" font-size="13.3" text-anchor="end" transform="translate(0 -12.62) scale(1 1.04)">80</text>
<line x1="236.6" y1="450" x2="359" y2="450" stroke="#231f20" stroke-width="1.8"/>
<line x1="265" y1="450" x2="265" y2="457" stroke="#231f20" stroke-width="1.8"/>
<line x1="329.8" y1="450" x2="329.8" y2="457" stroke="#231f20" stroke-width="1.8"/>
<text x="256.5" y="470" font-size="13.1" text-anchor="middle" transform="translate(0 -18.8) scale(1 1.04)">hIgG1</text>
<text x="257.2" y="484.4" font-size="13.1" text-anchor="middle" transform="translate(0 -19.38) scale(1 1.04)">isotype</text>
<text x="324.8" y="470" font-size="13.1" text-anchor="middle" transform="translate(0 -18.8) scale(1 1.04)">Cetuximab</text>
<text x="199.5" y="385.3" font-size="13.3" text-anchor="middle" transform="rotate(-90 199.5 385.3) translate(0 -15.41) scale(1 1.04)">CD16a expression (%)</text>
<circle cx="295" cy="422.4" r="4.2" fill="#231f20"/>
<text x="303.6" y="427" font-size="13.1" transform="translate(0 -17.08) scale(1 1.04)">Isotype</text>
<polygon points="295,435 299.4,442.4 290.6,442.4" fill="#0f8448"/>
<text x="303.6" y="443.6" font-size="13.1" fill="#0f8448" transform="translate(0 -17.74) scale(1 1.04)">F9H4</text>
<circle cx="259.2" cy="320.72" r="2.9" fill="#231f20"/>
<circle cx="248" cy="324.72" r="2.9" fill="#231f20"/>
<circle cx="259.2" cy="326.63" r="2.9" fill="#231f20"/>
<circle cx="248" cy="335.51" r="2.9" fill="#231f20"/>
<circle cx="259.2" cy="335.51" r="2.9" fill="#231f20"/>
<circle cx="259.2" cy="343.51" r="2.9" fill="#231f20"/>
<circle cx="248" cy="346.64" r="2.9" fill="#231f20"/>
<circle cx="259.2" cy="352.91" r="2.9" fill="#231f20"/>
<circle cx="248" cy="356.04" r="2.9" fill="#231f20"/>
<circle cx="253.6" cy="363.52" r="2.9" fill="#231f20"/>
<circle cx="253.6" cy="405.98" r="2.9" fill="#231f20"/>
<line x1="253.6" y1="322.28" x2="253.6" y2="371" stroke="#231f20" stroke-width="1.8"/>
<line x1="249.1" y1="322.28" x2="258.1" y2="322.28" stroke="#231f20" stroke-width="1.8"/>
<line x1="249.1" y1="371" x2="258.1" y2="371" stroke="#231f20" stroke-width="1.8"/>
<line x1="245.6" y1="346.64" x2="261.6" y2="346.64" stroke="#231f20" stroke-width="1.8"/>
<polygon points="275.5,314.66 278.91,320.39 272.09,320.39" fill="#0f8448"/>
<polygon points="280.5,314.66 283.91,320.39 277.09,320.39" fill="#0f8448"/>
<polygon points="278,319.88 281.41,325.62 274.59,325.62" fill="#0f8448"/>
<polygon points="283.5,328.58 286.91,334.31 280.09,334.31" fill="#0f8448"/>
<polygon points="272.5,333.8 275.91,339.53 269.09,339.53" fill="#0f8448"/>
<polygon points="278,333.8 281.41,339.53 274.59,339.53" fill="#0f8448"/>
<polygon points="272.5,342.5 275.91,348.24 269.09,348.24" fill="#0f8448"/>
<polygon points="278,342.5 281.41,348.24 274.59,348.24" fill="#0f8448"/>
<polygon points="283.5,342.5 286.91,348.24 280.09,348.24" fill="#0f8448"/>
<polygon points="278,357.46 281.41,363.2 274.59,363.2" fill="#0f8448"/>
<line x1="278" y1="322.46" x2="278" y2="348.21" stroke="#0f8448" stroke-width="1.8"/>
<line x1="273.5" y1="322.46" x2="282.5" y2="322.46" stroke="#0f8448" stroke-width="1.8"/>
<line x1="273.5" y1="348.21" x2="282.5" y2="348.21" stroke="#0f8448" stroke-width="1.8"/>
<line x1="270" y1="335.33" x2="286" y2="335.33" stroke="#0f8448" stroke-width="1.8"/>
<circle cx="318" cy="322.46" r="2.9" fill="#231f20"/>
<circle cx="323.6" cy="332.55" r="2.9" fill="#231f20"/>
<circle cx="312.4" cy="342.12" r="2.9" fill="#231f20"/>
<circle cx="323.6" cy="343.86" r="2.9" fill="#231f20"/>
<circle cx="318" cy="350.47" r="2.9" fill="#231f20"/>
<circle cx="318" cy="356.39" r="2.9" fill="#231f20"/>
<circle cx="312.4" cy="361.26" r="2.9" fill="#231f20"/>
<circle cx="318" cy="367" r="2.9" fill="#231f20"/>
<circle cx="318" cy="369.96" r="2.9" fill="#231f20"/>
<circle cx="318" cy="383.53" r="2.9" fill="#231f20"/>
<line x1="318" y1="330.46" x2="318" y2="366.31" stroke="#231f20" stroke-width="1.8"/>
<line x1="313.5" y1="330.46" x2="322.5" y2="330.46" stroke="#231f20" stroke-width="1.8"/>
<line x1="313.5" y1="366.31" x2="322.5" y2="366.31" stroke="#231f20" stroke-width="1.8"/>
<line x1="310" y1="348.38" x2="326" y2="348.38" stroke="#231f20" stroke-width="1.8"/>
<polygon points="342,327.19 345.41,332.92 338.59,332.92" fill="#0f8448"/>
<polygon points="342,342.5 345.41,348.24 338.59,348.24" fill="#0f8448"/>
<polygon points="336.5,351.2 339.91,356.94 333.09,356.94" fill="#0f8448"/>
<polygon points="347.5,351.2 350.91,356.94 344.09,356.94" fill="#0f8448"/>
<polygon points="342,356.42 345.41,362.15 338.59,362.15" fill="#0f8448"/>
<polygon points="336.5,365.12 339.91,370.86 333.09,370.86" fill="#0f8448"/>
<polygon points="347.5,368.6 350.91,374.33 344.09,374.33" fill="#0f8448"/>
<polygon points="342,370.34 345.41,376.07 338.59,376.07" fill="#0f8448"/>
<polygon points="342,382.52 345.41,388.25 338.59,388.25" fill="#0f8448"/>
<line x1="342" y1="342.99" x2="342" y2="376.4" stroke="#0f8448" stroke-width="1.8"/>
<line x1="337.5" y1="342.99" x2="346.5" y2="342.99" stroke="#0f8448" stroke-width="1.8"/>
<line x1="337.5" y1="376.4" x2="346.5" y2="376.4" stroke="#0f8448" stroke-width="1.8"/>
<line x1="334" y1="359.69" x2="350" y2="359.69" stroke="#0f8448" stroke-width="1.8"/>
<line x1="277.4" y1="310" x2="342.4" y2="310" stroke="#231f20" stroke-width="1.5"/>
<text x="310" y="305" font-size="12" text-anchor="middle" transform="translate(0 -12.2) scale(1 1.04)">p=0.0054</text>
<text x="369.9" y="266.6" font-size="22" font-weight="bold" transform="translate(0 -10.66) scale(1 1.04)">F</text>
<line x1="422.4" y1="317.2" x2="422.4" y2="450.8" stroke="#231f20" stroke-width="1.8"/>
<line x1="415.6" y1="450" x2="422.4" y2="450" stroke="#231f20" stroke-width="1.8"/>
<text x="413" y="454.61" font-size="12.8" text-anchor="end" transform="translate(0 -18.18) scale(1 1.04)">0</text>
<line x1="415.6" y1="428" x2="422.4" y2="428" stroke="#231f20" stroke-width="1.8"/>
<text x="413" y="432.61" font-size="12.8" text-anchor="end" transform="translate(0 -17.3) scale(1 1.04)">20</text>
<line x1="415.6" y1="406" x2="422.4" y2="406" stroke="#231f20" stroke-width="1.8"/>
<text x="413" y="410.61" font-size="12.8" text-anchor="end" transform="translate(0 -16.42) scale(1 1.04)">40</text>
<line x1="415.6" y1="384" x2="422.4" y2="384" stroke="#231f20" stroke-width="1.8"/>
<text x="413" y="388.61" font-size="12.8" text-anchor="end" transform="translate(0 -15.54) scale(1 1.04)">60</text>
<line x1="415.6" y1="362" x2="422.4" y2="362" stroke="#231f20" stroke-width="1.8"/>
<text x="413" y="366.61" font-size="12.8" text-anchor="end" transform="translate(0 -14.66) scale(1 1.04)">80</text>
<line x1="415.6" y1="340" x2="422.4" y2="340" stroke="#231f20" stroke-width="1.8"/>
<text x="413" y="344.61" font-size="12.8" text-anchor="end" transform="translate(0 -13.78) scale(1 1.04)">100</text>
<line x1="415.6" y1="318" x2="422.4" y2="318" stroke="#231f20" stroke-width="1.8"/>
<text x="413" y="322.61" font-size="12.8" text-anchor="end" transform="translate(0 -12.9) scale(1 1.04)">120</text>
<line x1="421.6" y1="450" x2="604.3" y2="450" stroke="#231f20" stroke-width="1.8"/>
<line x1="422.6" y1="450" x2="422.6" y2="456.5" stroke="#231f20" stroke-width="1.8"/>
<text x="422.6" y="468.5" font-size="12.8" text-anchor="middle" transform="translate(0 -18.74) scale(1 1.04)">0</text>
<line x1="482.9" y1="450" x2="482.9" y2="456.5" stroke="#231f20" stroke-width="1.8"/>
<text x="482.9" y="468.5" font-size="12.8" text-anchor="middle" transform="translate(0 -18.74) scale(1 1.04)">10</text>
<line x1="543.2" y1="450" x2="543.2" y2="456.5" stroke="#231f20" stroke-width="1.8"/>
<text x="543.2" y="468.5" font-size="12.8" text-anchor="middle" transform="translate(0 -18.74) scale(1 1.04)">20</text>
<line x1="603.5" y1="450" x2="603.5" y2="456.5" stroke="#231f20" stroke-width="1.8"/>
<text x="603.5" y="468.5" font-size="12.8" text-anchor="middle" transform="translate(0 -18.74) scale(1 1.04)">30</text>
<text x="504" y="485.9" font-size="13.32" text-anchor="middle" transform="translate(0 -19.44) scale(1 1.04)">Days after LLC1-hEGFR inoculation</text>
<text x="387.5" y="386" font-size="14.4" text-anchor="middle" transform="rotate(-90 387.5 386) translate(0 -15.44) scale(1 1.04)">Tumor area (mm<tspan dy="-6.05" font-size="11.52">2</tspan><tspan dy="6.05">)</tspan></text>
<polyline points="452.75,439.55 464.81,438.45 482.9,437.9 494.96,434.05 507.02,428 525.11,421.62 537.17,414.8 549.23,412.6" fill="none" stroke="#0f8448" stroke-width="1.9" stroke-linejoin="round"/>
<line x1="549.23" y1="409.85" x2="549.23" y2="415.35" stroke="#0f8448" stroke-width="1.2"/>
<line x1="546.43" y1="409.85" x2="552.03" y2="409.85" stroke="#0f8448" stroke-width="1.2"/>
<line x1="546.43" y1="415.35" x2="552.03" y2="415.35" stroke="#0f8448" stroke-width="1.2"/>
<rect x="449.85" y="436.65" width="5.8" height="5.8" fill="#0f8448"/>
<rect x="461.91" y="435.55" width="5.8" height="5.8" fill="#0f8448"/>
<rect x="480" y="435" width="5.8" height="5.8" fill="#0f8448"/>
<rect x="492.06" y="431.15" width="5.8" height="5.8" fill="#0f8448"/>
<rect x="504.12" y="425.1" width="5.8" height="5.8" fill="#0f8448"/>
<rect x="522.21" y="418.72" width="5.8" height="5.8" fill="#0f8448"/>
<rect x="534.27" y="411.9" width="5.8" height="5.8" fill="#0f8448"/>
<rect x="546.33" y="409.7" width="5.8" height="5.8" fill="#0f8448"/>
<polyline points="452.75,436.8 464.81,433.5 482.9,430.75 494.96,424.7 507.02,417.55 525.11,402.7 537.17,398.96 549.23,387.3" fill="none" stroke="#8e56a8" stroke-width="1.9" stroke-linejoin="round"/>
<line x1="525.11" y1="399.4" x2="525.11" y2="406" stroke="#8e56a8" stroke-width="1.2"/>
<line x1="522.31" y1="399.4" x2="527.91" y2="399.4" stroke="#8e56a8" stroke-width="1.2"/>
<line x1="522.31" y1="406" x2="527.91" y2="406" stroke="#8e56a8" stroke-width="1.2"/>
<line x1="537.17" y1="396.21" x2="537.17" y2="401.71" stroke="#8e56a8" stroke-width="1.2"/>
<line x1="534.37" y1="396.21" x2="539.97" y2="396.21" stroke="#8e56a8" stroke-width="1.2"/>
<line x1="534.37" y1="401.71" x2="539.97" y2="401.71" stroke="#8e56a8" stroke-width="1.2"/>
<line x1="549.23" y1="383.45" x2="549.23" y2="391.15" stroke="#8e56a8" stroke-width="1.2"/>
<line x1="546.43" y1="383.45" x2="552.03" y2="383.45" stroke="#8e56a8" stroke-width="1.2"/>
<line x1="546.43" y1="391.15" x2="552.03" y2="391.15" stroke="#8e56a8" stroke-width="1.2"/>
<polygon points="452.75,439.9 456.16,434.17 449.34,434.17" fill="#8e56a8"/>
<polygon points="464.81,436.6 468.22,430.87 461.4,430.87" fill="#8e56a8"/>
<polygon points="482.9,433.85 486.31,428.12 479.49,428.12" fill="#8e56a8"/>
<polygon points="494.96,427.8 498.37,422.06 491.55,422.06" fill="#8e56a8"/>
<polygon points="507.02,420.65 510.43,414.92 503.61,414.92" fill="#8e56a8"/>
<polygon points="525.11,405.8 528.52,400.06 521.7,400.06" fill="#8e56a8"/>
<polygon points="537.17,402.06 540.58,396.32 533.76,396.32" fill="#8e56a8"/>
<polygon points="549.23,390.4 552.64,384.67 545.82,384.67" fill="#8e56a8"/>
<polyline points="452.75,437.9 464.81,432.95 482.9,426.9 494.96,419.2 507.02,410.95 525.11,395 537.17,381.03 549.23,357.6" fill="none" stroke="#231f20" stroke-width="1.9" stroke-linejoin="round"/>
<line x1="525.11" y1="392.8" x2="525.11" y2="397.2" stroke="#231f20" stroke-width="1.2"/>
<line x1="522.31" y1="392.8" x2="527.91" y2="392.8" stroke="#231f20" stroke-width="1.2"/>
<line x1="522.31" y1="397.2" x2="527.91" y2="397.2" stroke="#231f20" stroke-width="1.2"/>
<line x1="537.17" y1="377.73" x2="537.17" y2="384.33" stroke="#231f20" stroke-width="1.2"/>
<line x1="534.37" y1="377.73" x2="539.97" y2="377.73" stroke="#231f20" stroke-width="1.2"/>
<line x1="534.37" y1="384.33" x2="539.97" y2="384.33" stroke="#231f20" stroke-width="1.2"/>
<line x1="549.23" y1="353.2" x2="549.23" y2="362" stroke="#231f20" stroke-width="1.2"/>
<line x1="546.43" y1="353.2" x2="552.03" y2="353.2" stroke="#231f20" stroke-width="1.2"/>
<line x1="546.43" y1="362" x2="552.03" y2="362" stroke="#231f20" stroke-width="1.2"/>
<polygon points="452.75,434.6 456.38,440.7 449.12,440.7" fill="none" stroke="#231f20" stroke-width="1.4" stroke-linejoin="miter"/>
<polygon points="464.81,429.65 468.44,435.75 461.18,435.75" fill="none" stroke="#231f20" stroke-width="1.4" stroke-linejoin="miter"/>
<polygon points="482.9,423.6 486.53,429.7 479.27,429.7" fill="none" stroke="#231f20" stroke-width="1.4" stroke-linejoin="miter"/>
<polygon points="494.96,415.9 498.59,422 491.33,422" fill="none" stroke="#231f20" stroke-width="1.4" stroke-linejoin="miter"/>
<polygon points="507.02,407.65 510.65,413.75 503.39,413.75" fill="none" stroke="#231f20" stroke-width="1.4" stroke-linejoin="miter"/>
<polygon points="525.11,391.7 528.74,397.81 521.48,397.81" fill="none" stroke="#231f20" stroke-width="1.4" stroke-linejoin="miter"/>
<polygon points="537.17,377.73 540.8,383.83 533.54,383.83" fill="none" stroke="#231f20" stroke-width="1.4" stroke-linejoin="miter"/>
<polygon points="549.23,354.3 552.86,360.41 545.6,360.41" fill="none" stroke="#231f20" stroke-width="1.4" stroke-linejoin="miter"/>
<polyline points="452.75,436.8 464.81,428.55 482.9,421.62 494.96,410.4 507.02,401.6 525.11,382.02 537.17,369.04 549.23,340.55" fill="none" stroke="#231f20" stroke-width="1.9" stroke-linejoin="round"/>
<line x1="525.11" y1="378.72" x2="525.11" y2="385.32" stroke="#231f20" stroke-width="1.2"/>
<line x1="522.31" y1="378.72" x2="527.91" y2="378.72" stroke="#231f20" stroke-width="1.2"/>
<line x1="522.31" y1="385.32" x2="527.91" y2="385.32" stroke="#231f20" stroke-width="1.2"/>
<line x1="537.17" y1="365.74" x2="537.17" y2="372.34" stroke="#231f20" stroke-width="1.2"/>
<line x1="534.37" y1="365.74" x2="539.97" y2="365.74" stroke="#231f20" stroke-width="1.2"/>
<line x1="534.37" y1="372.34" x2="539.97" y2="372.34" stroke="#231f20" stroke-width="1.2"/>
<line x1="549.23" y1="337.25" x2="549.23" y2="343.85" stroke="#231f20" stroke-width="1.2"/>
<line x1="546.43" y1="337.25" x2="552.03" y2="337.25" stroke="#231f20" stroke-width="1.2"/>
<line x1="546.43" y1="343.85" x2="552.03" y2="343.85" stroke="#231f20" stroke-width="1.2"/>
<circle cx="452.75" cy="436.8" r="2.9" fill="#231f20"/>
<circle cx="464.81" cy="428.55" r="2.9" fill="#231f20"/>
<circle cx="482.9" cy="421.62" r="2.9" fill="#231f20"/>
<circle cx="494.96" cy="410.4" r="2.9" fill="#231f20"/>
<circle cx="507.02" cy="401.6" r="2.9" fill="#231f20"/>
<circle cx="525.11" cy="382.02" r="2.9" fill="#231f20"/>
<circle cx="537.17" cy="369.04" r="2.9" fill="#231f20"/>
<circle cx="549.23" cy="340.55" r="2.9" fill="#231f20"/>
<line x1="431.4" y1="269.4" x2="450" y2="269.4" stroke="#8e56a8" stroke-width="1.8"/>
<polygon points="440.7,273.4 445.1,266 436.3,266" fill="#8e56a8"/>
<text x="452.3" y="273.45" font-size="13.5" fill="#8e56a8" transform="translate(0 -10.94) scale(1 1.04)">F9H4+cetuximab+anti-NK1.1</text>
<line x1="431.4" y1="284.2" x2="450" y2="284.2" stroke="#0f8448" stroke-width="1.8"/>
<rect x="436.7" y="280.2" width="8" height="8" fill="#0f8448"/>
<text x="452.3" y="288.25" font-size="13.5" fill="#0f8448" transform="translate(0 -11.53) scale(1 1.04)">F9H4+cetuximab+mIgG2a isotype</text>
<line x1="431.4" y1="298.8" x2="450" y2="298.8" stroke="#231f20" stroke-width="1.8"/>
<circle cx="440.7" cy="298.8" r="3.8" fill="#231f20"/>
<text x="452.3" y="302.85" font-size="13.5" transform="translate(0 -12.11) scale(1 1.04)">Isotypes+anti-NK1.1</text>
<line x1="431.4" y1="313.2" x2="450" y2="313.2" stroke="#231f20" stroke-width="1.8"/>
<polygon points="440.7,309.5 444.77,316.34 436.63,316.34" fill="none" stroke="#231f20" stroke-width="1.5" stroke-linejoin="miter"/>
<text x="452.3" y="317.25" font-size="13.5" transform="translate(0 -12.69) scale(1 1.04)">Isotypes alone</text>
<line x1="555.6" y1="340.6" x2="555.6" y2="360" stroke="#3a3a3a" stroke-width="1.4"/>
<line x1="566.4" y1="340.6" x2="566.4" y2="388" stroke="#3a3a3a" stroke-width="1.4"/>
<line x1="577.4" y1="358" x2="577.4" y2="414.4" stroke="#3a3a3a" stroke-width="1.4"/>
<line x1="555.6" y1="384.4" x2="555.6" y2="414.4" stroke="#3a3a3a" stroke-width="1.4"/>
<text x="551.6" y="349.4" font-size="18.2" text-anchor="middle" transform="rotate(90 551.6 349.4) translate(0 -13.98) scale(1 1.04)" letter-spacing="0.8">***</text>
<text x="562.2" y="364.9" font-size="18.2" text-anchor="middle" transform="rotate(90 562.2 364.9) translate(0 -14.6) scale(1 1.04)" letter-spacing="0.8">***</text>
<text x="573" y="384.4" font-size="18.2" text-anchor="middle" transform="rotate(90 573 384.4) translate(0 -15.38) scale(1 1.04)" letter-spacing="0.8">***</text>
<text x="551.6" y="398.9" font-size="18.2" text-anchor="middle" transform="rotate(90 551.6 398.9) translate(0 -15.96) scale(1 1.04)" letter-spacing="0.8">***</text>
<text x="12.1" y="518.8" font-size="22" font-weight="bold" transform="translate(0 -20.75) scale(1 1.04)">G</text>
<text x="108.5" y="543.4" font-size="14.85" text-anchor="middle" transform="translate(0 -21.74) scale(1 1.04)">Blood monocytes</text>
<line x1="57" y1="562.2" x2="57" y2="702.2" stroke="#231f20" stroke-width="1.8"/>
<line x1="50.4" y1="701.4" x2="57" y2="701.4" stroke="#231f20" stroke-width="1.8"/>
<text x="48.2" y="706.19" font-size="13.3" text-anchor="end" transform="translate(0 -28.25) scale(1 1.04)">0</text>
<line x1="50.4" y1="666.8" x2="57" y2="666.8" stroke="#231f20" stroke-width="1.8"/>
<text x="48.2" y="671.59" font-size="13.3" text-anchor="end" transform="translate(0 -26.86) scale(1 1.04)">20</text>
<line x1="50.4" y1="632.2" x2="57" y2="632.2" stroke="#231f20" stroke-width="1.8"/>
<text x="48.2" y="636.99" font-size="13.3" text-anchor="end" transform="translate(0 -25.48) scale(1 1.04)">40</text>
<line x1="50.4" y1="597.6" x2="57" y2="597.6" stroke="#231f20" stroke-width="1.8"/>
<text x="48.2" y="602.39" font-size="13.3" text-anchor="end" transform="translate(0 -24.1) scale(1 1.04)">60</text>
<line x1="50.4" y1="563" x2="57" y2="563" stroke="#231f20" stroke-width="1.8"/>
<text x="48.2" y="567.79" font-size="13.3" text-anchor="end" transform="translate(0 -22.71) scale(1 1.04)">80</text>
<line x1="56.2" y1="701.4" x2="178.6" y2="701.4" stroke="#231f20" stroke-width="1.8"/>
<line x1="85.4" y1="701.4" x2="85.4" y2="708.4" stroke="#231f20" stroke-width="1.8"/>
<line x1="150" y1="701.4" x2="150" y2="708.4" stroke="#231f20" stroke-width="1.8"/>
<text x="78.5" y="721" font-size="13.1" text-anchor="middle" transform="translate(0 -28.84) scale(1 1.04)">hIgG1</text>
<text x="79" y="735" font-size="13.1" text-anchor="middle" transform="translate(0 -29.4) scale(1 1.04)">isotype</text>
<text x="146.5" y="720.8" font-size="13.1" text-anchor="middle" transform="translate(0 -28.83) scale(1 1.04)">Cetuximab</text>
<text x="28.6" y="641.5" font-size="13.3" text-anchor="middle" transform="rotate(-90 28.6 641.5) translate(0 -25.66) scale(1 1.04)">CD16a expression (%)</text>
<circle cx="66.4" cy="674" r="4.2" fill="#231f20"/>
<text x="74.4" y="678.6" font-size="13.1" transform="translate(0 -27.14) scale(1 1.04)">Isotype</text>
<polygon points="66.4,687 70.8,694.4 62,694.4" fill="#0f8448"/>
<text x="74.4" y="695.6" font-size="13.1" fill="#0f8448" transform="translate(0 -27.82) scale(1 1.04)">F9H4</text>
<circle cx="73.6" cy="575.46" r="2.9" fill="#231f20"/>
<circle cx="73.6" cy="595.87" r="2.9" fill="#231f20"/>
<circle cx="73.6" cy="611.44" r="2.9" fill="#231f20"/>
<circle cx="73.6" cy="628.05" r="2.9" fill="#231f20"/>
<circle cx="79" cy="637.39" r="2.9" fill="#231f20"/>
<circle cx="68" cy="641.02" r="2.9" fill="#231f20"/>
<circle cx="79" cy="644.48" r="2.9" fill="#231f20"/>
<circle cx="73.6" cy="655.55" r="2.9" fill="#231f20"/>
<line x1="73.6" y1="596.22" x2="73.6" y2="651.23" stroke="#231f20" stroke-width="1.8"/>
<line x1="69.1" y1="596.22" x2="78.1" y2="596.22" stroke="#231f20" stroke-width="1.8"/>
<line x1="69.1" y1="651.23" x2="78.1" y2="651.23" stroke="#231f20" stroke-width="1.8"/>
<line x1="65.6" y1="623.72" x2="81.6" y2="623.72" stroke="#231f20" stroke-width="1.8"/>
<polygon points="103,606.96 106.41,612.69 99.59,612.69" fill="#0f8448"/>
<polygon points="97.4,611.8 100.81,617.53 93.99,617.53" fill="#0f8448"/>
<polygon points="95,623.04 98.41,628.78 91.59,628.78" fill="#0f8448"/>
<polygon points="101,623.04 104.41,628.78 97.59,628.78" fill="#0f8448"/>
<polygon points="92.5,629.1 95.91,634.83 89.09,634.83" fill="#0f8448"/>
<polygon points="103.5,629.1 106.91,634.83 100.09,634.83" fill="#0f8448"/>
<polygon points="98,632.56 101.41,638.29 94.59,638.29" fill="#0f8448"/>
<polygon points="95,638.61 98.41,644.35 91.59,644.35" fill="#0f8448"/>
<polygon points="101,641.21 104.41,646.94 97.59,646.94" fill="#0f8448"/>
<polygon points="98,649.34 101.41,655.08 94.59,655.08" fill="#0f8448"/>
<line x1="98" y1="619.4" x2="98" y2="645" stroke="#0f8448" stroke-width="1.8"/>
<line x1="93.5" y1="619.4" x2="102.5" y2="619.4" stroke="#0f8448" stroke-width="1.8"/>
<line x1="93.5" y1="645" x2="102.5" y2="645" stroke="#0f8448" stroke-width="1.8"/>
<line x1="90" y1="632.2" x2="106" y2="632.2" stroke="#0f8448" stroke-width="1.8"/>
<circle cx="137.8" cy="614.9" r="2.9" fill="#231f20"/>
<circle cx="137.8" cy="620.78" r="2.9" fill="#231f20"/>
<circle cx="132.4" cy="635.66" r="2.9" fill="#231f20"/>
<circle cx="143.2" cy="637.74" r="2.9" fill="#231f20"/>
<circle cx="137.8" cy="642.58" r="2.9" fill="#231f20"/>
<circle cx="134.8" cy="646.04" r="2.9" fill="#231f20"/>
<circle cx="140.8" cy="649.5" r="2.9" fill="#231f20"/>
<circle cx="137.8" cy="661.61" r="2.9" fill="#231f20"/>
<line x1="137.8" y1="627.01" x2="137.8" y2="654.69" stroke="#231f20" stroke-width="1.8"/>
<line x1="133.3" y1="627.01" x2="142.3" y2="627.01" stroke="#231f20" stroke-width="1.8"/>
<line x1="133.3" y1="654.69" x2="142.3" y2="654.69" stroke="#231f20" stroke-width="1.8"/>
<line x1="129.8" y1="640.85" x2="145.8" y2="640.85" stroke="#231f20" stroke-width="1.8"/>
<polygon points="161.6,602.28 165.01,608.02 158.19,608.02" fill="#0f8448"/>
<polygon points="161.6,608.34 165.01,614.07 158.19,614.07" fill="#0f8448"/>
<polygon points="156.1,626.16 159.51,631.89 152.69,631.89" fill="#0f8448"/>
<polygon points="167.1,629.1 170.51,634.83 163.69,634.83" fill="#0f8448"/>
<polygon points="161.6,631.18 165.01,636.91 158.19,636.91" fill="#0f8448"/>
<polygon points="161.6,636.37 165.01,642.1 158.19,642.1" fill="#0f8448"/>
<polygon points="156.1,646.4 159.51,652.13 152.69,652.13" fill="#0f8448"/>
<polygon points="161.6,653.32 165.01,659.05 158.19,659.05" fill="#0f8448"/>
<polygon points="159.1,658.51 162.51,664.25 155.69,664.25" fill="#0f8448"/>
<polygon points="164.1,658.51 167.51,664.25 160.69,664.25" fill="#0f8448"/>
<line x1="161.6" y1="618.71" x2="161.6" y2="657.8" stroke="#0f8448" stroke-width="1.8"/>
<line x1="157.1" y1="618.71" x2="166.1" y2="618.71" stroke="#0f8448" stroke-width="1.8"/>
<line x1="157.1" y1="657.8" x2="166.1" y2="657.8" stroke="#0f8448" stroke-width="1.8"/>
<line x1="153.6" y1="638.25" x2="169.6" y2="638.25" stroke="#0f8448" stroke-width="1.8"/>
<text x="189.5" y="518.8" font-size="22" font-weight="bold" transform="translate(0 -20.75) scale(1 1.04)">H</text>
<text x="295" y="525.4" font-size="14.8" text-anchor="middle" transform="translate(0 -21.02) scale(1 1.04)">Tumor-infiltrating</text>
<text x="295.4" y="539.4" font-size="14.8" text-anchor="middle" transform="translate(0 -21.58) scale(1 1.04)">macrophages</text>
<line x1="233.6" y1="562.6" x2="233.6" y2="702.6" stroke="#231f20" stroke-width="1.8"/>
<line x1="227" y1="701.8" x2="233.6" y2="701.8" stroke="#231f20" stroke-width="1.8"/>
<text x="224.4" y="706.59" font-size="13.3" text-anchor="end" transform="translate(0 -28.26) scale(1 1.04)">0</text>
<line x1="227" y1="667.2" x2="233.6" y2="667.2" stroke="#231f20" stroke-width="1.8"/>
<text x="224.4" y="671.99" font-size="13.3" text-anchor="end" transform="translate(0 -26.88) scale(1 1.04)">25</text>
<line x1="227" y1="632.6" x2="233.6" y2="632.6" stroke="#231f20" stroke-width="1.8"/>
<text x="224.4" y="637.39" font-size="13.3" text-anchor="end" transform="translate(0 -25.5) scale(1 1.04)">50</text>
<line x1="227" y1="598" x2="233.6" y2="598" stroke="#231f20" stroke-width="1.8"/>
<text x="224.4" y="602.79" font-size="13.3" text-anchor="end" transform="translate(0 -24.11) scale(1 1.04)">75</text>
<line x1="227" y1="563.4" x2="233.6" y2="563.4" stroke="#231f20" stroke-width="1.8"/>
<text x="224.4" y="568.19" font-size="13.3" text-anchor="end" transform="translate(0 -22.73) scale(1 1.04)">100</text>
<line x1="232.8" y1="701.8" x2="356.5" y2="701.8" stroke="#231f20" stroke-width="1.8"/>
<line x1="262" y1="701.8" x2="262" y2="708.8" stroke="#231f20" stroke-width="1.8"/>
<line x1="326.6" y1="701.8" x2="326.6" y2="708.8" stroke="#231f20" stroke-width="1.8"/>
<text x="257" y="720.4" font-size="13.1" text-anchor="middle" transform="translate(0 -28.82) scale(1 1.04)">hIgG1</text>
<text x="257.5" y="734.8" font-size="13.1" text-anchor="middle" transform="translate(0 -29.39) scale(1 1.04)">isotype</text>
<text x="325.4" y="720.4" font-size="13.1" text-anchor="middle" transform="translate(0 -28.82) scale(1 1.04)">Cetuximab</text>
<text x="200" y="641.5" font-size="13.3" text-anchor="middle" transform="rotate(-90 200 641.5) translate(0 -25.66) scale(1 1.04)">CD16a expression (%)</text>
<circle cx="241.6" cy="674.5" r="4.2" fill="#231f20"/>
<text x="249.5" y="679.1" font-size="13.1" transform="translate(0 -27.16) scale(1 1.04)">Isotype</text>
<polygon points="241.6,687 246,694.4 237.2,694.4" fill="#0f8448"/>
<text x="249.5" y="695.6" font-size="13.1" fill="#0f8448" transform="translate(0 -27.82) scale(1 1.04)">F9H4</text>
<circle cx="248" cy="577.93" r="2.9" fill="#231f20"/>
<circle cx="252" cy="582.36" r="2.9" fill="#231f20"/>
<circle cx="250" cy="595.23" r="2.9" fill="#231f20"/>
<circle cx="244.5" cy="602.15" r="2.9" fill="#231f20"/>
<circle cx="255.5" cy="603.54" r="2.9" fill="#231f20"/>
<circle cx="250" cy="606.3" r="2.9" fill="#231f20"/>
<circle cx="244.5" cy="609.76" r="2.9" fill="#231f20"/>
<circle cx="255.5" cy="613.22" r="2.9" fill="#231f20"/>
<circle cx="247" cy="617.38" r="2.9" fill="#231f20"/>
<circle cx="253" cy="616.68" r="2.9" fill="#231f20"/>
<circle cx="245" cy="619.45" r="2.9" fill="#231f20"/>
<line x1="250" y1="590.66" x2="250" y2="616.41" stroke="#231f20" stroke-width="1.8"/>
<line x1="245.5" y1="590.66" x2="254.5" y2="590.66" stroke="#231f20" stroke-width="1.8"/>
<line x1="245.5" y1="616.41" x2="254.5" y2="616.41" stroke="#231f20" stroke-width="1.8"/>
<line x1="242" y1="603.54" x2="258" y2="603.54" stroke="#231f20" stroke-width="1.8"/>
<polygon points="269.5,569.99 272.91,575.72 266.09,575.72" fill="#0f8448"/>
<polygon points="274,569.99 277.41,575.72 270.59,575.72" fill="#0f8448"/>
<polygon points="278.5,568.6 281.91,574.34 275.09,574.34" fill="#0f8448"/>
<polygon points="274,574.14 277.41,579.88 270.59,579.88" fill="#0f8448"/>
<polygon points="269,581.06 272.41,586.79 265.59,586.79" fill="#0f8448"/>
<polygon points="274,590.75 277.41,596.48 270.59,596.48" fill="#0f8448"/>
<polygon points="274,593.52 277.41,599.25 270.59,599.25" fill="#0f8448"/>
<polygon points="279,597.67 282.41,603.4 275.59,603.4" fill="#0f8448"/>
<polygon points="274,618.43 277.41,624.16 270.59,624.16" fill="#0f8448"/>
<polygon points="271.5,632.27 274.91,638 268.09,638" fill="#0f8448"/>
<polygon points="276.5,631.58 279.91,637.31 273.09,637.31" fill="#0f8448"/>
<line x1="274" y1="574.61" x2="274" y2="618.62" stroke="#0f8448" stroke-width="1.8"/>
<line x1="269.5" y1="574.61" x2="278.5" y2="574.61" stroke="#0f8448" stroke-width="1.8"/>
<line x1="269.5" y1="618.62" x2="278.5" y2="618.62" stroke="#0f8448" stroke-width="1.8"/>
<line x1="266" y1="596.62" x2="282" y2="596.62" stroke="#0f8448" stroke-width="1.8"/>
<circle cx="309" cy="592.05" r="2.9" fill="#231f20"/>
<circle cx="316" cy="589.7" r="2.9" fill="#231f20"/>
<circle cx="319.5" cy="589" r="2.9" fill="#231f20"/>
<circle cx="309" cy="602.98" r="2.9" fill="#231f20"/>
<circle cx="319.5" cy="605.61" r="2.9" fill="#231f20"/>
<circle cx="314" cy="610.46" r="2.9" fill="#231f20"/>
<circle cx="309" cy="627.76" r="2.9" fill="#231f20"/>
<circle cx="319.5" cy="628.45" r="2.9" fill="#231f20"/>
<circle cx="314" cy="633.98" r="2.9" fill="#231f20"/>
<circle cx="314" cy="641.04" r="2.9" fill="#231f20"/>
<circle cx="314" cy="667.2" r="2.9" fill="#231f20"/>
<line x1="314" y1="592.05" x2="314" y2="641.32" stroke="#231f20" stroke-width="1.8"/>
<line x1="309.5" y1="592.05" x2="318.5" y2="592.05" stroke="#231f20" stroke-width="1.8"/>
<line x1="309.5" y1="641.32" x2="318.5" y2="641.32" stroke="#231f20" stroke-width="1.8"/>
<line x1="306" y1="616.68" x2="322" y2="616.68" stroke="#231f20" stroke-width="1.8"/>
<polygon points="338.6,596.56 342.01,602.3 335.19,602.3" fill="#0f8448"/>
<polygon points="333.1,605.97 336.51,611.71 329.69,611.71" fill="#0f8448"/>
<polygon points="344.1,605.28 347.51,611.01 340.69,611.01" fill="#0f8448"/>
<polygon points="338.6,612.89 342.01,618.63 335.19,618.63" fill="#0f8448"/>
<polygon points="333.1,622.58 336.51,628.31 329.69,628.31" fill="#0f8448"/>
<polygon points="344.1,623.96 347.51,629.7 340.69,629.7" fill="#0f8448"/>
<polygon points="333.1,635.04 336.51,640.77 329.69,640.77" fill="#0f8448"/>
<polygon points="344.1,636.42 347.51,642.15 340.69,642.15" fill="#0f8448"/>
<polygon points="338.6,639.19 342.01,644.92 335.19,644.92" fill="#0f8448"/>
<polygon points="338.6,657.87 342.01,663.61 335.19,663.61" fill="#0f8448"/>
<line x1="338.6" y1="606.44" x2="338.6" y2="644.92" stroke="#0f8448" stroke-width="1.8"/>
<line x1="334.1" y1="606.44" x2="343.1" y2="606.44" stroke="#0f8448" stroke-width="1.8"/>
<line x1="334.1" y1="644.92" x2="343.1" y2="644.92" stroke="#0f8448" stroke-width="1.8"/>
<line x1="330.6" y1="625.68" x2="346.6" y2="625.68" stroke="#0f8448" stroke-width="1.8"/>
<line x1="273" y1="566.6" x2="338" y2="566.6" stroke="#231f20" stroke-width="1.5"/>
<text x="306" y="562" font-size="12" text-anchor="middle" transform="translate(0 -22.48) scale(1 1.04)">p=0.0071</text>
<text x="369.7" y="518.8" font-size="22" font-weight="bold" transform="translate(0 -20.75) scale(1 1.04)">I</text>
<line x1="422.4" y1="570.2" x2="422.4" y2="703.8" stroke="#231f20" stroke-width="1.8"/>
<line x1="415.6" y1="703" x2="422.4" y2="703" stroke="#231f20" stroke-width="1.8"/>
<text x="412.5" y="707.61" font-size="12.8" text-anchor="end" transform="translate(0 -28.3) scale(1 1.04)">0</text>
<line x1="415.6" y1="659" x2="422.4" y2="659" stroke="#231f20" stroke-width="1.8"/>
<text x="412.5" y="663.61" font-size="12.8" text-anchor="end" transform="translate(0 -26.54) scale(1 1.04)">40</text>
<line x1="415.6" y1="615" x2="422.4" y2="615" stroke="#231f20" stroke-width="1.8"/>
<text x="412.5" y="619.61" font-size="12.8" text-anchor="end" transform="translate(0 -24.78) scale(1 1.04)">80</text>
<line x1="415.6" y1="571" x2="422.4" y2="571" stroke="#231f20" stroke-width="1.8"/>
<text x="412.5" y="575.61" font-size="12.8" text-anchor="end" transform="translate(0 -23.02) scale(1 1.04)">120</text>
<line x1="421.6" y1="703" x2="598.6" y2="703" stroke="#231f20" stroke-width="1.8"/>
<line x1="422.6" y1="703" x2="422.6" y2="709.5" stroke="#231f20" stroke-width="1.8"/>
<text x="422.6" y="724.6" font-size="12.8" text-anchor="middle" transform="translate(0 -28.98) scale(1 1.04)">0</text>
<line x1="451.8" y1="703" x2="451.8" y2="709.5" stroke="#231f20" stroke-width="1.8"/>
<text x="451.8" y="724.6" font-size="12.8" text-anchor="middle" transform="translate(0 -28.98) scale(1 1.04)">5</text>
<line x1="481" y1="703" x2="481" y2="709.5" stroke="#231f20" stroke-width="1.8"/>
<text x="481" y="724.6" font-size="12.8" text-anchor="middle" transform="translate(0 -28.98) scale(1 1.04)">10</text>
<line x1="510.2" y1="703" x2="510.2" y2="709.5" stroke="#231f20" stroke-width="1.8"/>
<text x="510.2" y="724.6" font-size="12.8" text-anchor="middle" transform="translate(0 -28.98) scale(1 1.04)">15</text>
<line x1="539.4" y1="703" x2="539.4" y2="709.5" stroke="#231f20" stroke-width="1.8"/>
<text x="539.4" y="724.6" font-size="12.8" text-anchor="middle" transform="translate(0 -28.98) scale(1 1.04)">20</text>
<line x1="568.6" y1="703" x2="568.6" y2="709.5" stroke="#231f20" stroke-width="1.8"/>
<text x="568.6" y="724.6" font-size="12.8" text-anchor="middle" transform="translate(0 -28.98) scale(1 1.04)">25</text>
<line x1="597.8" y1="703" x2="597.8" y2="709.5" stroke="#231f20" stroke-width="1.8"/>
<text x="597.8" y="724.6" font-size="12.8" text-anchor="middle" transform="translate(0 -28.98) scale(1 1.04)">30</text>
<text x="505.7" y="739" font-size="13.5" text-anchor="middle" transform="translate(0 -29.56) scale(1 1.04)">Days after LLC1-hEGFR inoculation</text>
<text x="388.3" y="642.3" font-size="14.7" text-anchor="middle" transform="rotate(-90 388.3 642.3) translate(0 -25.69) scale(1 1.04)">Tumor Area (mm<tspan dy="-6.17" font-size="11.76">2</tspan><tspan dy="6.17">)</tspan></text>
<polyline points="451.8,693.1 469.32,689.8 486.84,687.6 498.52,679.9 510.2,674.4 527.72,665.6 539.4,657.9 551.08,654.6 568.6,648 580.28,642.5 591.96,639.2" fill="none" stroke="#0f8448" stroke-width="1.9" stroke-linejoin="round"/>
<line x1="527.72" y1="662.3" x2="527.72" y2="668.9" stroke="#0f8448" stroke-width="1.2"/>
<line x1="524.92" y1="662.3" x2="530.52" y2="662.3" stroke="#0f8448" stroke-width="1.2"/>
<line x1="524.92" y1="668.9" x2="530.52" y2="668.9" stroke="#0f8448" stroke-width="1.2"/>
<line x1="539.4" y1="654.6" x2="539.4" y2="661.2" stroke="#0f8448" stroke-width="1.2"/>
<line x1="536.6" y1="654.6" x2="542.2" y2="654.6" stroke="#0f8448" stroke-width="1.2"/>
<line x1="536.6" y1="661.2" x2="542.2" y2="661.2" stroke="#0f8448" stroke-width="1.2"/>
<line x1="551.08" y1="651.3" x2="551.08" y2="657.9" stroke="#0f8448" stroke-width="1.2"/>
<line x1="548.28" y1="651.3" x2="553.88" y2="651.3" stroke="#0f8448" stroke-width="1.2"/>
<line x1="548.28" y1="657.9" x2="553.88" y2="657.9" stroke="#0f8448" stroke-width="1.2"/>
<line x1="568.6" y1="644.15" x2="568.6" y2="651.85" stroke="#0f8448" stroke-width="1.2"/>
<line x1="565.8" y1="644.15" x2="571.4" y2="644.15" stroke="#0f8448" stroke-width="1.2"/>
<line x1="565.8" y1="651.85" x2="571.4" y2="651.85" stroke="#0f8448" stroke-width="1.2"/>
<line x1="580.28" y1="638.1" x2="580.28" y2="646.9" stroke="#0f8448" stroke-width="1.2"/>
<line x1="577.48" y1="638.1" x2="583.08" y2="638.1" stroke="#0f8448" stroke-width="1.2"/>
<line x1="577.48" y1="646.9" x2="583.08" y2="646.9" stroke="#0f8448" stroke-width="1.2"/>
<line x1="591.96" y1="634.8" x2="591.96" y2="643.6" stroke="#0f8448" stroke-width="1.2"/>
<line x1="589.16" y1="634.8" x2="594.76" y2="634.8" stroke="#0f8448" stroke-width="1.2"/>
<line x1="589.16" y1="643.6" x2="594.76" y2="643.6" stroke="#0f8448" stroke-width="1.2"/>
<rect x="448.9" y="690.2" width="5.8" height="5.8" fill="#0f8448"/>
<rect x="466.42" y="686.9" width="5.8" height="5.8" fill="#0f8448"/>
<rect x="483.94" y="684.7" width="5.8" height="5.8" fill="#0f8448"/>
<rect x="495.62" y="677" width="5.8" height="5.8" fill="#0f8448"/>
<rect x="507.3" y="671.5" width="5.8" height="5.8" fill="#0f8448"/>
<rect x="524.82" y="662.7" width="5.8" height="5.8" fill="#0f8448"/>
<rect x="536.5" y="655" width="5.8" height="5.8" fill="#0f8448"/>
<rect x="548.18" y="651.7" width="5.8" height="5.8" fill="#0f8448"/>
<rect x="565.7" y="645.1" width="5.8" height="5.8" fill="#0f8448"/>
<rect x="577.38" y="639.6" width="5.8" height="5.8" fill="#0f8448"/>
<rect x="589.06" y="636.3" width="5.8" height="5.8" fill="#0f8448"/>
<polyline points="451.8,693.1 469.32,689.8 486.84,685.4 498.52,673.3 510.2,663.4 527.72,655.7 539.4,643.6 551.08,637 568.6,628.2 580.28,622.7 591.96,606.2" fill="none" stroke="#e8338a" stroke-width="1.9" stroke-linejoin="round"/>
<line x1="510.2" y1="660.1" x2="510.2" y2="666.7" stroke="#e8338a" stroke-width="1.2"/>
<line x1="507.4" y1="660.1" x2="513" y2="660.1" stroke="#e8338a" stroke-width="1.2"/>
<line x1="507.4" y1="666.7" x2="513" y2="666.7" stroke="#e8338a" stroke-width="1.2"/>
<line x1="527.72" y1="652.4" x2="527.72" y2="659" stroke="#e8338a" stroke-width="1.2"/>
<line x1="524.92" y1="652.4" x2="530.52" y2="652.4" stroke="#e8338a" stroke-width="1.2"/>
<line x1="524.92" y1="659" x2="530.52" y2="659" stroke="#e8338a" stroke-width="1.2"/>
<line x1="539.4" y1="639.2" x2="539.4" y2="648" stroke="#e8338a" stroke-width="1.2"/>
<line x1="536.6" y1="639.2" x2="542.2" y2="639.2" stroke="#e8338a" stroke-width="1.2"/>
<line x1="536.6" y1="648" x2="542.2" y2="648" stroke="#e8338a" stroke-width="1.2"/>
<line x1="551.08" y1="631.5" x2="551.08" y2="642.5" stroke="#e8338a" stroke-width="1.2"/>
<line x1="548.28" y1="631.5" x2="553.88" y2="631.5" stroke="#e8338a" stroke-width="1.2"/>
<line x1="548.28" y1="642.5" x2="553.88" y2="642.5" stroke="#e8338a" stroke-width="1.2"/>
<line x1="568.6" y1="623.8" x2="568.6" y2="632.6" stroke="#e8338a" stroke-width="1.2"/>
<line x1="565.8" y1="623.8" x2="571.4" y2="623.8" stroke="#e8338a" stroke-width="1.2"/>
<line x1="565.8" y1="632.6" x2="571.4" y2="632.6" stroke="#e8338a" stroke-width="1.2"/>
<line x1="580.28" y1="617.2" x2="580.28" y2="628.2" stroke="#e8338a" stroke-width="1.2"/>
<line x1="577.48" y1="617.2" x2="583.08" y2="617.2" stroke="#e8338a" stroke-width="1.2"/>
<line x1="577.48" y1="628.2" x2="583.08" y2="628.2" stroke="#e8338a" stroke-width="1.2"/>
<line x1="591.96" y1="601.8" x2="591.96" y2="610.6" stroke="#e8338a" stroke-width="1.2"/>
<line x1="589.16" y1="601.8" x2="594.76" y2="601.8" stroke="#e8338a" stroke-width="1.2"/>
<line x1="589.16" y1="610.6" x2="594.76" y2="610.6" stroke="#e8338a" stroke-width="1.2"/>
<polygon points="451.8,696.2 455.21,690.47 448.39,690.47" fill="#e8338a"/>
<polygon points="469.32,692.9 472.73,687.16 465.91,687.16" fill="#e8338a"/>
<polygon points="486.84,688.5 490.25,682.76 483.43,682.76" fill="#e8338a"/>
<polygon points="498.52,676.4 501.93,670.66 495.11,670.66" fill="#e8338a"/>
<polygon points="510.2,666.5 513.61,660.76 506.79,660.76" fill="#e8338a"/>
<polygon points="527.72,658.8 531.13,653.07 524.31,653.07" fill="#e8338a"/>
<polygon points="539.4,646.7 542.81,640.97 535.99,640.97" fill="#e8338a"/>
<polygon points="551.08,640.1 554.49,634.37 547.67,634.37" fill="#e8338a"/>
<polygon points="568.6,631.3 572.01,625.57 565.19,625.57" fill="#e8338a"/>
<polygon points="580.28,625.8 583.69,620.07 576.87,620.07" fill="#e8338a"/>
<polygon points="591.96,609.3 595.37,603.57 588.55,603.57" fill="#e8338a"/>
<polyline points="451.8,692 469.32,688.7 486.84,679.9 498.52,667.8 510.2,652.4 527.72,626 539.4,615 551.08,599.6 568.6,590.8" fill="none" stroke="#231f20" stroke-width="1.9" stroke-linejoin="round"/>
<line x1="498.52" y1="664.5" x2="498.52" y2="671.1" stroke="#231f20" stroke-width="1.2"/>
<line x1="495.72" y1="664.5" x2="501.32" y2="664.5" stroke="#231f20" stroke-width="1.2"/>
<line x1="495.72" y1="671.1" x2="501.32" y2="671.1" stroke="#231f20" stroke-width="1.2"/>
<line x1="510.2" y1="649.1" x2="510.2" y2="655.7" stroke="#231f20" stroke-width="1.2"/>
<line x1="507.4" y1="649.1" x2="513" y2="649.1" stroke="#231f20" stroke-width="1.2"/>
<line x1="507.4" y1="655.7" x2="513" y2="655.7" stroke="#231f20" stroke-width="1.2"/>
<line x1="527.72" y1="620.5" x2="527.72" y2="631.5" stroke="#231f20" stroke-width="1.2"/>
<line x1="524.92" y1="620.5" x2="530.52" y2="620.5" stroke="#231f20" stroke-width="1.2"/>
<line x1="524.92" y1="631.5" x2="530.52" y2="631.5" stroke="#231f20" stroke-width="1.2"/>
<line x1="551.08" y1="596.3" x2="551.08" y2="602.9" stroke="#231f20" stroke-width="1.2"/>
<line x1="548.28" y1="596.3" x2="553.88" y2="596.3" stroke="#231f20" stroke-width="1.2"/>
<line x1="548.28" y1="602.9" x2="553.88" y2="602.9" stroke="#231f20" stroke-width="1.2"/>
<polygon points="451.8,688.7 455.43,694.8 448.17,694.8" fill="none" stroke="#231f20" stroke-width="1.4" stroke-linejoin="miter"/>
<polygon points="469.32,685.4 472.95,691.5 465.69,691.5" fill="none" stroke="#231f20" stroke-width="1.4" stroke-linejoin="miter"/>
<polygon points="486.84,676.6 490.47,682.7 483.21,682.7" fill="none" stroke="#231f20" stroke-width="1.4" stroke-linejoin="miter"/>
<polygon points="498.52,664.5 502.15,670.6 494.89,670.6" fill="none" stroke="#231f20" stroke-width="1.4" stroke-linejoin="miter"/>
<polygon points="510.2,649.1 513.83,655.2 506.57,655.2" fill="none" stroke="#231f20" stroke-width="1.4" stroke-linejoin="miter"/>
<polygon points="527.72,622.7 531.35,628.8 524.09,628.8" fill="none" stroke="#231f20" stroke-width="1.4" stroke-linejoin="miter"/>
<polygon points="539.4,611.7 543.03,617.8 535.77,617.8" fill="none" stroke="#231f20" stroke-width="1.4" stroke-linejoin="miter"/>
<polygon points="551.08,596.3 554.71,602.4 547.45,602.4" fill="none" stroke="#231f20" stroke-width="1.4" stroke-linejoin="miter"/>
<polygon points="568.6,587.5 572.23,593.6 564.97,593.6" fill="none" stroke="#231f20" stroke-width="1.4" stroke-linejoin="miter"/>
<polyline points="451.8,692 469.32,678.8 486.84,667.8 498.52,648 510.2,622.7 527.72,602.9 539.4,595.2 551.08,594.1 568.6,582" fill="none" stroke="#231f20" stroke-width="1.9" stroke-linejoin="round"/>
<line x1="498.52" y1="644.7" x2="498.52" y2="651.3" stroke="#231f20" stroke-width="1.2"/>
<line x1="495.72" y1="644.7" x2="501.32" y2="644.7" stroke="#231f20" stroke-width="1.2"/>
<line x1="495.72" y1="651.3" x2="501.32" y2="651.3" stroke="#231f20" stroke-width="1.2"/>
<line x1="510.2" y1="618.3" x2="510.2" y2="627.1" stroke="#231f20" stroke-width="1.2"/>
<line x1="507.4" y1="618.3" x2="513" y2="618.3" stroke="#231f20" stroke-width="1.2"/>
<line x1="507.4" y1="627.1" x2="513" y2="627.1" stroke="#231f20" stroke-width="1.2"/>
<line x1="527.72" y1="598.5" x2="527.72" y2="607.3" stroke="#231f20" stroke-width="1.2"/>
<line x1="524.92" y1="598.5" x2="530.52" y2="598.5" stroke="#231f20" stroke-width="1.2"/>
<line x1="524.92" y1="607.3" x2="530.52" y2="607.3" stroke="#231f20" stroke-width="1.2"/>
<line x1="539.4" y1="593" x2="539.4" y2="597.4" stroke="#231f20" stroke-width="1.2"/>
<line x1="536.6" y1="593" x2="542.2" y2="593" stroke="#231f20" stroke-width="1.2"/>
<line x1="536.6" y1="597.4" x2="542.2" y2="597.4" stroke="#231f20" stroke-width="1.2"/>
<line x1="551.08" y1="590.8" x2="551.08" y2="597.4" stroke="#231f20" stroke-width="1.2"/>
<line x1="548.28" y1="590.8" x2="553.88" y2="590.8" stroke="#231f20" stroke-width="1.2"/>
<line x1="548.28" y1="597.4" x2="553.88" y2="597.4" stroke="#231f20" stroke-width="1.2"/>
<circle cx="451.8" cy="692" r="2.9" fill="#231f20"/>
<circle cx="469.32" cy="678.8" r="2.9" fill="#231f20"/>
<circle cx="486.84" cy="667.8" r="2.9" fill="#231f20"/>
<circle cx="498.52" cy="648" r="2.9" fill="#231f20"/>
<circle cx="510.2" cy="622.7" r="2.9" fill="#231f20"/>
<circle cx="527.72" cy="602.9" r="2.9" fill="#231f20"/>
<circle cx="539.4" cy="595.2" r="2.9" fill="#231f20"/>
<circle cx="551.08" cy="594.1" r="2.9" fill="#231f20"/>
<circle cx="568.6" cy="582" r="2.9" fill="#231f20"/>
<line x1="427" y1="511.2" x2="445.6" y2="511.2" stroke="#e8338a" stroke-width="1.8"/>
<polygon points="436.3,514.9 440.37,508.06 432.23,508.06" fill="#e8338a"/>
<text x="449.5" y="516.06" font-size="13.5" fill="#e8338a" transform="translate(0 -20.64) scale(1 1.04)">F9H4+cetuximab+clodronate liposome</text>
<line x1="427" y1="526" x2="445.6" y2="526" stroke="#0f8448" stroke-width="1.8"/>
<rect x="432.3" y="522" width="8" height="8" fill="#0f8448"/>
<text x="449.5" y="530.86" font-size="13.5" fill="#0f8448" transform="translate(0 -21.23) scale(1 1.04)">F9H4+cetuximab+control liposome</text>
<line x1="427" y1="541.4" x2="445.6" y2="541.4" stroke="#231f20" stroke-width="1.8"/>
<circle cx="436.3" cy="541.4" r="3.8" fill="#231f20"/>
<text x="449.5" y="546.26" font-size="13.5" transform="translate(0 -21.85) scale(1 1.04)">Isotypes+clodronate liposome</text>
<line x1="427" y1="556.9" x2="445.6" y2="556.9" stroke="#231f20" stroke-width="1.8"/>
<polygon points="436.3,553.2 440.37,560.04 432.23,560.04" fill="none" stroke="#231f20" stroke-width="1.4" stroke-linejoin="miter"/>
<text x="449.5" y="561.76" font-size="13.5" transform="translate(0 -22.47) scale(1 1.04)">Isotype+control liposome</text>
<line x1="600.4" y1="577.4" x2="600.4" y2="589.8" stroke="#231f20" stroke-width="1.4"/>
<line x1="600.4" y1="604.4" x2="600.4" y2="640" stroke="#231f20" stroke-width="1.4"/>
<line x1="614.2" y1="577.7" x2="614.2" y2="603.3" stroke="#231f20" stroke-width="1.4"/>
<line x1="624.3" y1="590.9" x2="624.3" y2="640" stroke="#231f20" stroke-width="1.4"/>
<text x="602.6" y="589.8" font-size="12.9" text-anchor="middle" transform="rotate(90 602.6 589.8) translate(0 -23.59) scale(1 1.04)">p&gt;0.99</text>
<text x="596.9" y="622.2" font-size="18.2" text-anchor="middle" transform="rotate(90 596.9 622.2) translate(0 -24.89) scale(1 1.04)" letter-spacing="0.8">***</text>
<text x="609.6" y="591.4" font-size="18.2" text-anchor="middle" transform="rotate(90 609.6 591.4) translate(0 -23.66) scale(1 1.04)" letter-spacing="0.8">**</text>
<text x="620.3" y="611.2" font-size="18.2" text-anchor="middle" transform="rotate(90 620.3 611.2) translate(0 -24.45) scale(1 1.04)" letter-spacing="0.8">***</text>
</svg>
</body></html>
